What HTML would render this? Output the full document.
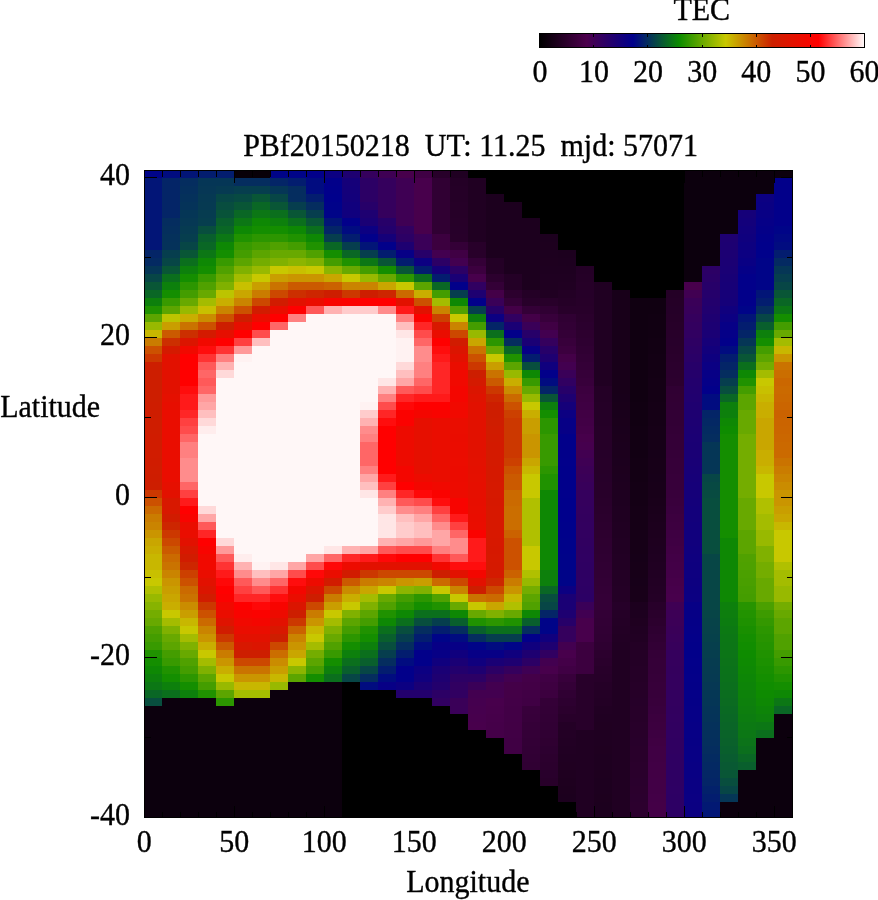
<!DOCTYPE html>
<html><head><meta charset="utf-8"><title>TEC map</title>
<style>html,body{margin:0;padding:0;background:#fff;width:878px;height:900px;overflow:hidden;font-family:"Liberation Serif",serif}</style></head>
<body>
<svg width="878" height="900" viewBox="0 0 878 900" style="position:absolute;left:0;top:0">
<rect x="0" y="0" width="878" height="900" fill="#fff"/>
<g shape-rendering="crispEdges">
<rect x="144" y="170" width="648" height="648" fill="#000"/>
<rect x="144" y="170" width="18" height="8" fill="#000488"/>
<rect x="144" y="178" width="18" height="72" fill="#021577"/>
<rect x="144" y="250" width="18" height="8" fill="#042567"/>
<rect x="144" y="258" width="18" height="8" fill="#042a62"/>
<rect x="144" y="266" width="18" height="8" fill="#053656"/>
<rect x="144" y="274" width="18" height="8" fill="#074646"/>
<rect x="144" y="282" width="18" height="8" fill="#095636"/>
<rect x="144" y="290" width="18" height="8" fill="#0a6725"/>
<rect x="144" y="298" width="18" height="8" fill="#0d800c"/>
<rect x="144" y="306" width="18" height="8" fill="#209200"/>
<rect x="144" y="314" width="18" height="8" fill="#5ca500"/>
<rect x="144" y="322" width="18" height="8" fill="#98b900"/>
<rect x="144" y="330" width="18" height="8" fill="#c8b700"/>
<rect x="144" y="338" width="18" height="8" fill="#ca7c00"/>
<rect x="144" y="346" width="18" height="8" fill="#cc5100"/>
<rect x="144" y="354" width="18" height="8" fill="#cc3800"/>
<rect x="144" y="362" width="18" height="40" fill="#cd1e00"/>
<rect x="144" y="402" width="18" height="16" fill="#ce1d00"/>
<rect x="144" y="418" width="18" height="16" fill="#cf1d00"/>
<rect x="144" y="434" width="18" height="16" fill="#d01c00"/>
<rect x="144" y="450" width="18" height="8" fill="#d11c00"/>
<rect x="144" y="458" width="18" height="8" fill="#d01c00"/>
<rect x="144" y="466" width="18" height="8" fill="#cf1d00"/>
<rect x="144" y="474" width="18" height="8" fill="#ce1d00"/>
<rect x="144" y="482" width="18" height="8" fill="#cd1e00"/>
<rect x="144" y="490" width="18" height="8" fill="#cc3800"/>
<rect x="144" y="498" width="18" height="8" fill="#cc5100"/>
<rect x="144" y="506" width="18" height="8" fill="#cb6a00"/>
<rect x="144" y="514" width="18" height="8" fill="#ca7c00"/>
<rect x="144" y="522" width="18" height="8" fill="#ca8400"/>
<rect x="144" y="530" width="18" height="8" fill="#ca9500"/>
<rect x="144" y="538" width="18" height="8" fill="#c9a600"/>
<rect x="144" y="546" width="18" height="8" fill="#c9ae00"/>
<rect x="144" y="554" width="18" height="16" fill="#c8b700"/>
<rect x="144" y="570" width="18" height="8" fill="#c8c000"/>
<rect x="144" y="578" width="18" height="8" fill="#c8c800"/>
<rect x="144" y="586" width="18" height="8" fill="#b0c000"/>
<rect x="144" y="594" width="18" height="8" fill="#98b900"/>
<rect x="144" y="602" width="18" height="8" fill="#87b300"/>
<rect x="144" y="610" width="18" height="8" fill="#74ad00"/>
<rect x="144" y="618" width="18" height="8" fill="#68a900"/>
<rect x="144" y="626" width="18" height="8" fill="#50a100"/>
<rect x="144" y="634" width="18" height="8" fill="#449d00"/>
<rect x="144" y="642" width="18" height="8" fill="#389a00"/>
<rect x="144" y="650" width="18" height="8" fill="#209200"/>
<rect x="144" y="658" width="18" height="8" fill="#148e00"/>
<rect x="144" y="666" width="18" height="8" fill="#0e8804"/>
<rect x="144" y="674" width="18" height="8" fill="#0d800c"/>
<rect x="144" y="682" width="18" height="8" fill="#0c7715"/>
<rect x="144" y="690" width="18" height="8" fill="#0a6725"/>
<rect x="144" y="698" width="18" height="8" fill="#084e3e"/>
<rect x="144" y="706" width="18" height="112" fill="#0c000d"/>
<rect x="162" y="170" width="18" height="8" fill="#010c80"/>
<rect x="162" y="178" width="18" height="40" fill="#042567"/>
<rect x="162" y="218" width="18" height="8" fill="#052d5f"/>
<rect x="162" y="226" width="18" height="8" fill="#052f5d"/>
<rect x="162" y="234" width="18" height="8" fill="#05315b"/>
<rect x="162" y="242" width="18" height="8" fill="#05325a"/>
<rect x="162" y="250" width="18" height="8" fill="#063e4e"/>
<rect x="162" y="258" width="18" height="8" fill="#074646"/>
<rect x="162" y="266" width="18" height="8" fill="#095636"/>
<rect x="162" y="274" width="18" height="8" fill="#0b6f1d"/>
<rect x="162" y="282" width="18" height="8" fill="#0d800c"/>
<rect x="162" y="290" width="18" height="8" fill="#148e00"/>
<rect x="162" y="298" width="18" height="8" fill="#389a00"/>
<rect x="162" y="306" width="18" height="8" fill="#5ca500"/>
<rect x="162" y="314" width="18" height="8" fill="#bcc400"/>
<rect x="162" y="322" width="18" height="8" fill="#c99e00"/>
<rect x="162" y="330" width="18" height="8" fill="#cb5a00"/>
<rect x="162" y="338" width="18" height="8" fill="#cc2f00"/>
<rect x="162" y="346" width="18" height="8" fill="#d41a00"/>
<rect x="162" y="354" width="18" height="40" fill="#e21100"/>
<rect x="162" y="394" width="18" height="8" fill="#e51000"/>
<rect x="162" y="402" width="18" height="8" fill="#e70e00"/>
<rect x="162" y="410" width="18" height="72" fill="#ea0d00"/>
<rect x="162" y="482" width="18" height="8" fill="#e60f00"/>
<rect x="162" y="490" width="18" height="8" fill="#e21100"/>
<rect x="162" y="498" width="18" height="16" fill="#d81800"/>
<rect x="162" y="514" width="18" height="8" fill="#d11c00"/>
<rect x="162" y="522" width="18" height="8" fill="#cd2600"/>
<rect x="162" y="530" width="18" height="8" fill="#cc3800"/>
<rect x="162" y="538" width="18" height="8" fill="#cc4800"/>
<rect x="162" y="546" width="18" height="8" fill="#cb5a00"/>
<rect x="162" y="554" width="18" height="8" fill="#cb6a00"/>
<rect x="162" y="562" width="18" height="8" fill="#ca7300"/>
<rect x="162" y="570" width="18" height="8" fill="#ca8400"/>
<rect x="162" y="578" width="18" height="8" fill="#ca9500"/>
<rect x="162" y="586" width="18" height="8" fill="#c99e00"/>
<rect x="162" y="594" width="18" height="8" fill="#c9a600"/>
<rect x="162" y="602" width="18" height="8" fill="#c9ae00"/>
<rect x="162" y="610" width="18" height="8" fill="#c8c800"/>
<rect x="162" y="618" width="18" height="8" fill="#a4bc00"/>
<rect x="162" y="626" width="18" height="8" fill="#80b100"/>
<rect x="162" y="634" width="18" height="8" fill="#68a900"/>
<rect x="162" y="642" width="18" height="8" fill="#5ca500"/>
<rect x="162" y="650" width="18" height="8" fill="#449d00"/>
<rect x="162" y="658" width="18" height="8" fill="#389a00"/>
<rect x="162" y="666" width="18" height="8" fill="#209200"/>
<rect x="162" y="674" width="18" height="8" fill="#148e00"/>
<rect x="162" y="682" width="18" height="8" fill="#0d800c"/>
<rect x="162" y="690" width="18" height="8" fill="#0b6f1d"/>
<rect x="162" y="698" width="18" height="120" fill="#0c000d"/>
<rect x="180" y="170" width="18" height="8" fill="#021577"/>
<rect x="180" y="178" width="18" height="8" fill="#052d5f"/>
<rect x="180" y="186" width="18" height="8" fill="#052f5d"/>
<rect x="180" y="194" width="18" height="8" fill="#05315b"/>
<rect x="180" y="202" width="18" height="8" fill="#053359"/>
<rect x="180" y="210" width="18" height="8" fill="#053656"/>
<rect x="180" y="218" width="18" height="8" fill="#063854"/>
<rect x="180" y="226" width="18" height="8" fill="#063b51"/>
<rect x="180" y="234" width="18" height="8" fill="#063e4e"/>
<rect x="180" y="242" width="18" height="8" fill="#074646"/>
<rect x="180" y="250" width="18" height="8" fill="#095636"/>
<rect x="180" y="258" width="18" height="8" fill="#0b6f1d"/>
<rect x="180" y="266" width="18" height="8" fill="#0d800c"/>
<rect x="180" y="274" width="18" height="8" fill="#148e00"/>
<rect x="180" y="282" width="18" height="8" fill="#2c9600"/>
<rect x="180" y="290" width="18" height="8" fill="#449d00"/>
<rect x="180" y="298" width="18" height="8" fill="#68a900"/>
<rect x="180" y="306" width="18" height="8" fill="#98b900"/>
<rect x="180" y="314" width="18" height="8" fill="#c9ae00"/>
<rect x="180" y="322" width="18" height="8" fill="#ca7300"/>
<rect x="180" y="330" width="18" height="8" fill="#cc2f00"/>
<rect x="180" y="338" width="18" height="8" fill="#db1500"/>
<rect x="180" y="346" width="18" height="8" fill="#f10900"/>
<rect x="180" y="354" width="18" height="32" fill="#ff0000"/>
<rect x="180" y="386" width="18" height="8" fill="#ff0d0d"/>
<rect x="180" y="394" width="18" height="16" fill="#ff1a1a"/>
<rect x="180" y="410" width="18" height="8" fill="#ff2626"/>
<rect x="180" y="418" width="18" height="8" fill="#ff4040"/>
<rect x="180" y="426" width="18" height="8" fill="#ff4c4c"/>
<rect x="180" y="434" width="18" height="8" fill="#ff6666"/>
<rect x="180" y="442" width="18" height="16" fill="#ff8080"/>
<rect x="180" y="458" width="18" height="24" fill="#ff8c8c"/>
<rect x="180" y="482" width="18" height="8" fill="#ff6666"/>
<rect x="180" y="490" width="18" height="8" fill="#ff4040"/>
<rect x="180" y="498" width="18" height="8" fill="#ff1a1a"/>
<rect x="180" y="506" width="18" height="8" fill="#ff0000"/>
<rect x="180" y="514" width="18" height="8" fill="#f80400"/>
<rect x="180" y="522" width="18" height="16" fill="#ea0d00"/>
<rect x="180" y="538" width="18" height="8" fill="#e21100"/>
<rect x="180" y="546" width="18" height="8" fill="#d81800"/>
<rect x="180" y="554" width="18" height="8" fill="#d11c00"/>
<rect x="180" y="562" width="18" height="8" fill="#cd2600"/>
<rect x="180" y="570" width="18" height="8" fill="#cc4000"/>
<rect x="180" y="578" width="18" height="8" fill="#cc5100"/>
<rect x="180" y="586" width="18" height="8" fill="#cb6a00"/>
<rect x="180" y="594" width="18" height="8" fill="#ca7300"/>
<rect x="180" y="602" width="18" height="8" fill="#ca8c00"/>
<rect x="180" y="610" width="18" height="8" fill="#c99e00"/>
<rect x="180" y="618" width="18" height="8" fill="#c8b700"/>
<rect x="180" y="626" width="18" height="8" fill="#c8c800"/>
<rect x="180" y="634" width="18" height="8" fill="#a4bc00"/>
<rect x="180" y="642" width="18" height="8" fill="#80b100"/>
<rect x="180" y="650" width="18" height="8" fill="#68a900"/>
<rect x="180" y="658" width="18" height="8" fill="#50a100"/>
<rect x="180" y="666" width="18" height="8" fill="#449d00"/>
<rect x="180" y="674" width="18" height="8" fill="#2c9600"/>
<rect x="180" y="682" width="18" height="8" fill="#148e00"/>
<rect x="180" y="690" width="18" height="8" fill="#0d800c"/>
<rect x="180" y="698" width="18" height="120" fill="#0c000d"/>
<rect x="198" y="170" width="18" height="8" fill="#031d6f"/>
<rect x="198" y="178" width="18" height="8" fill="#053656"/>
<rect x="198" y="186" width="18" height="8" fill="#063755"/>
<rect x="198" y="194" width="18" height="8" fill="#063953"/>
<rect x="198" y="202" width="18" height="8" fill="#063a52"/>
<rect x="198" y="210" width="18" height="8" fill="#063c50"/>
<rect x="198" y="218" width="18" height="8" fill="#063e4e"/>
<rect x="198" y="226" width="18" height="8" fill="#084e3e"/>
<rect x="198" y="234" width="18" height="8" fill="#095f2d"/>
<rect x="198" y="242" width="18" height="8" fill="#0a6725"/>
<rect x="198" y="250" width="18" height="8" fill="#0c7715"/>
<rect x="198" y="258" width="18" height="8" fill="#0e8804"/>
<rect x="198" y="266" width="18" height="8" fill="#148e00"/>
<rect x="198" y="274" width="18" height="8" fill="#389a00"/>
<rect x="198" y="282" width="18" height="8" fill="#50a100"/>
<rect x="198" y="290" width="18" height="8" fill="#68a900"/>
<rect x="198" y="298" width="18" height="8" fill="#a4bc00"/>
<rect x="198" y="306" width="18" height="8" fill="#c8c000"/>
<rect x="198" y="314" width="18" height="8" fill="#ca8c00"/>
<rect x="198" y="322" width="18" height="8" fill="#cc5100"/>
<rect x="198" y="330" width="18" height="8" fill="#d41a00"/>
<rect x="198" y="338" width="18" height="8" fill="#f10900"/>
<rect x="198" y="346" width="18" height="8" fill="#ff0d0d"/>
<rect x="198" y="354" width="18" height="8" fill="#ff3333"/>
<rect x="198" y="362" width="18" height="8" fill="#ff5959"/>
<rect x="198" y="370" width="18" height="8" fill="#ff6666"/>
<rect x="198" y="378" width="18" height="8" fill="#ff5959"/>
<rect x="198" y="386" width="18" height="8" fill="#ff6666"/>
<rect x="198" y="394" width="18" height="8" fill="#ff9999"/>
<rect x="198" y="402" width="18" height="8" fill="#ffa6a6"/>
<rect x="198" y="410" width="18" height="8" fill="#ffbfbf"/>
<rect x="198" y="418" width="18" height="8" fill="#ffd9d9"/>
<rect x="198" y="426" width="18" height="8" fill="#ffeded"/>
<rect x="198" y="434" width="18" height="72" fill="#fff7f7"/>
<rect x="198" y="506" width="18" height="8" fill="#ffd9d9"/>
<rect x="198" y="514" width="18" height="8" fill="#ffa6a6"/>
<rect x="198" y="522" width="18" height="8" fill="#ff5959"/>
<rect x="198" y="530" width="18" height="8" fill="#ff2626"/>
<rect x="198" y="538" width="18" height="8" fill="#ff0000"/>
<rect x="198" y="546" width="18" height="8" fill="#f80400"/>
<rect x="198" y="554" width="18" height="16" fill="#f10900"/>
<rect x="198" y="570" width="18" height="8" fill="#ea0d00"/>
<rect x="198" y="578" width="18" height="8" fill="#e21100"/>
<rect x="198" y="586" width="18" height="8" fill="#db1500"/>
<rect x="198" y="594" width="18" height="8" fill="#d11c00"/>
<rect x="198" y="602" width="18" height="8" fill="#cc3800"/>
<rect x="198" y="610" width="18" height="8" fill="#cc5100"/>
<rect x="198" y="618" width="18" height="8" fill="#cb6a00"/>
<rect x="198" y="626" width="18" height="8" fill="#ca8400"/>
<rect x="198" y="634" width="18" height="8" fill="#ca9500"/>
<rect x="198" y="642" width="18" height="8" fill="#c9ae00"/>
<rect x="198" y="650" width="18" height="8" fill="#c8c800"/>
<rect x="198" y="658" width="18" height="8" fill="#a4bc00"/>
<rect x="198" y="666" width="18" height="8" fill="#80b100"/>
<rect x="198" y="674" width="18" height="8" fill="#5ca500"/>
<rect x="198" y="682" width="18" height="8" fill="#449d00"/>
<rect x="198" y="690" width="18" height="8" fill="#209200"/>
<rect x="198" y="698" width="18" height="120" fill="#0c000d"/>
<rect x="216" y="170" width="18" height="8" fill="#031d6f"/>
<rect x="216" y="178" width="18" height="8" fill="#053656"/>
<rect x="216" y="186" width="18" height="8" fill="#063a52"/>
<rect x="216" y="194" width="18" height="8" fill="#074646"/>
<rect x="216" y="202" width="18" height="8" fill="#084d3f"/>
<rect x="216" y="210" width="18" height="8" fill="#085339"/>
<rect x="216" y="218" width="18" height="8" fill="#095f2d"/>
<rect x="216" y="226" width="18" height="8" fill="#0a6725"/>
<rect x="216" y="234" width="18" height="8" fill="#0c7715"/>
<rect x="216" y="242" width="18" height="8" fill="#0e8804"/>
<rect x="216" y="250" width="18" height="8" fill="#148e00"/>
<rect x="216" y="258" width="18" height="8" fill="#389a00"/>
<rect x="216" y="266" width="18" height="8" fill="#50a100"/>
<rect x="216" y="274" width="18" height="8" fill="#68a900"/>
<rect x="216" y="282" width="18" height="8" fill="#80b100"/>
<rect x="216" y="290" width="18" height="8" fill="#bcc400"/>
<rect x="216" y="298" width="18" height="8" fill="#c9ae00"/>
<rect x="216" y="306" width="18" height="8" fill="#ca8400"/>
<rect x="216" y="314" width="18" height="8" fill="#cc5100"/>
<rect x="216" y="322" width="18" height="8" fill="#cd1e00"/>
<rect x="216" y="330" width="18" height="8" fill="#e60f00"/>
<rect x="216" y="338" width="18" height="8" fill="#ff0000"/>
<rect x="216" y="346" width="18" height="8" fill="#ff3333"/>
<rect x="216" y="354" width="18" height="8" fill="#ff8080"/>
<rect x="216" y="362" width="18" height="8" fill="#ffb2b2"/>
<rect x="216" y="370" width="18" height="8" fill="#ffd9d9"/>
<rect x="216" y="378" width="18" height="160" fill="#fff7f7"/>
<rect x="216" y="538" width="18" height="8" fill="#ffd9d9"/>
<rect x="216" y="546" width="18" height="8" fill="#ff9999"/>
<rect x="216" y="554" width="18" height="8" fill="#ff5959"/>
<rect x="216" y="562" width="18" height="8" fill="#ff3333"/>
<rect x="216" y="570" width="18" height="8" fill="#ff1a1a"/>
<rect x="216" y="578" width="18" height="8" fill="#ff0808"/>
<rect x="216" y="586" width="18" height="8" fill="#ff0000"/>
<rect x="216" y="594" width="18" height="8" fill="#fb0200"/>
<rect x="216" y="602" width="18" height="8" fill="#f10900"/>
<rect x="216" y="610" width="18" height="8" fill="#ea0d00"/>
<rect x="216" y="618" width="18" height="8" fill="#df1300"/>
<rect x="216" y="626" width="18" height="8" fill="#d11c00"/>
<rect x="216" y="634" width="18" height="8" fill="#cc3800"/>
<rect x="216" y="642" width="18" height="8" fill="#cb5a00"/>
<rect x="216" y="650" width="18" height="8" fill="#ca7c00"/>
<rect x="216" y="658" width="18" height="8" fill="#ca9500"/>
<rect x="216" y="666" width="18" height="8" fill="#c9ae00"/>
<rect x="216" y="674" width="18" height="8" fill="#c8c800"/>
<rect x="216" y="682" width="18" height="8" fill="#98b900"/>
<rect x="216" y="690" width="18" height="8" fill="#5ca500"/>
<rect x="216" y="698" width="18" height="8" fill="#2c9600"/>
<rect x="216" y="706" width="18" height="112" fill="#0c000d"/>
<rect x="234" y="170" width="18" height="8" fill="#080008"/>
<rect x="234" y="178" width="18" height="8" fill="#052d5f"/>
<rect x="234" y="186" width="18" height="8" fill="#063e4e"/>
<rect x="234" y="194" width="18" height="8" fill="#074a42"/>
<rect x="234" y="202" width="18" height="8" fill="#095636"/>
<rect x="234" y="210" width="18" height="8" fill="#0a6725"/>
<rect x="234" y="218" width="18" height="8" fill="#0c7715"/>
<rect x="234" y="226" width="18" height="8" fill="#0e8804"/>
<rect x="234" y="234" width="18" height="8" fill="#209200"/>
<rect x="234" y="242" width="18" height="8" fill="#389a00"/>
<rect x="234" y="250" width="18" height="8" fill="#449d00"/>
<rect x="234" y="258" width="18" height="8" fill="#5ca500"/>
<rect x="234" y="266" width="18" height="8" fill="#80b100"/>
<rect x="234" y="274" width="18" height="8" fill="#a4bc00"/>
<rect x="234" y="282" width="18" height="8" fill="#c8c000"/>
<rect x="234" y="290" width="18" height="8" fill="#c9a600"/>
<rect x="234" y="298" width="18" height="8" fill="#ca8400"/>
<rect x="234" y="306" width="18" height="8" fill="#cc5100"/>
<rect x="234" y="314" width="18" height="8" fill="#cd1e00"/>
<rect x="234" y="322" width="18" height="8" fill="#e60f00"/>
<rect x="234" y="330" width="18" height="8" fill="#ff0000"/>
<rect x="234" y="338" width="18" height="8" fill="#ff4040"/>
<rect x="234" y="346" width="18" height="8" fill="#ff9999"/>
<rect x="234" y="354" width="18" height="8" fill="#fff2f2"/>
<rect x="234" y="362" width="18" height="192" fill="#fff7f7"/>
<rect x="234" y="554" width="18" height="8" fill="#ffeded"/>
<rect x="234" y="562" width="18" height="8" fill="#ffb2b2"/>
<rect x="234" y="570" width="18" height="8" fill="#ff8c8c"/>
<rect x="234" y="578" width="18" height="8" fill="#ff5959"/>
<rect x="234" y="586" width="18" height="8" fill="#ff4040"/>
<rect x="234" y="594" width="18" height="8" fill="#ff2626"/>
<rect x="234" y="602" width="18" height="8" fill="#ff0000"/>
<rect x="234" y="610" width="18" height="8" fill="#f80400"/>
<rect x="234" y="618" width="18" height="8" fill="#f10900"/>
<rect x="234" y="626" width="18" height="8" fill="#ea0d00"/>
<rect x="234" y="634" width="18" height="8" fill="#e21100"/>
<rect x="234" y="642" width="18" height="8" fill="#d81800"/>
<rect x="234" y="650" width="18" height="8" fill="#cd1e00"/>
<rect x="234" y="658" width="18" height="8" fill="#cc4800"/>
<rect x="234" y="666" width="18" height="8" fill="#ca7300"/>
<rect x="234" y="674" width="18" height="8" fill="#ca9500"/>
<rect x="234" y="682" width="18" height="8" fill="#c8b700"/>
<rect x="234" y="690" width="18" height="8" fill="#a4bc00"/>
<rect x="234" y="698" width="18" height="120" fill="#0c000d"/>
<rect x="252" y="170" width="18" height="8" fill="#080008"/>
<rect x="252" y="178" width="18" height="8" fill="#052d5f"/>
<rect x="252" y="186" width="18" height="8" fill="#063e4e"/>
<rect x="252" y="194" width="18" height="8" fill="#095636"/>
<rect x="252" y="202" width="18" height="8" fill="#0a6725"/>
<rect x="252" y="210" width="18" height="8" fill="#0c7715"/>
<rect x="252" y="218" width="18" height="8" fill="#0e8804"/>
<rect x="252" y="226" width="18" height="8" fill="#148e00"/>
<rect x="252" y="234" width="18" height="8" fill="#2c9600"/>
<rect x="252" y="242" width="18" height="8" fill="#449d00"/>
<rect x="252" y="250" width="18" height="8" fill="#5ca500"/>
<rect x="252" y="258" width="18" height="8" fill="#74ad00"/>
<rect x="252" y="266" width="18" height="8" fill="#98b900"/>
<rect x="252" y="274" width="18" height="8" fill="#c8c800"/>
<rect x="252" y="282" width="18" height="8" fill="#c99e00"/>
<rect x="252" y="290" width="18" height="8" fill="#ca7c00"/>
<rect x="252" y="298" width="18" height="8" fill="#cc4800"/>
<rect x="252" y="306" width="18" height="8" fill="#d11c00"/>
<rect x="252" y="314" width="18" height="8" fill="#ea0d00"/>
<rect x="252" y="322" width="18" height="8" fill="#ff0000"/>
<rect x="252" y="330" width="18" height="8" fill="#ff4c4c"/>
<rect x="252" y="338" width="18" height="8" fill="#ffbfbf"/>
<rect x="252" y="346" width="18" height="216" fill="#fff7f7"/>
<rect x="252" y="562" width="18" height="8" fill="#fff2f2"/>
<rect x="252" y="570" width="18" height="8" fill="#ffbfbf"/>
<rect x="252" y="578" width="18" height="8" fill="#ff8c8c"/>
<rect x="252" y="586" width="18" height="8" fill="#ff5959"/>
<rect x="252" y="594" width="18" height="8" fill="#ff2626"/>
<rect x="252" y="602" width="18" height="8" fill="#ff0808"/>
<rect x="252" y="610" width="18" height="8" fill="#fb0200"/>
<rect x="252" y="618" width="18" height="8" fill="#f40600"/>
<rect x="252" y="626" width="18" height="8" fill="#ea0d00"/>
<rect x="252" y="634" width="18" height="8" fill="#e21100"/>
<rect x="252" y="642" width="18" height="8" fill="#db1500"/>
<rect x="252" y="650" width="18" height="8" fill="#cd1e00"/>
<rect x="252" y="658" width="18" height="8" fill="#cc4800"/>
<rect x="252" y="666" width="18" height="8" fill="#ca7300"/>
<rect x="252" y="674" width="18" height="8" fill="#ca9500"/>
<rect x="252" y="682" width="18" height="8" fill="#c8b700"/>
<rect x="252" y="690" width="18" height="8" fill="#a4bc00"/>
<rect x="252" y="698" width="18" height="120" fill="#0c000d"/>
<rect x="270" y="170" width="18" height="8" fill="#000488"/>
<rect x="270" y="178" width="18" height="8" fill="#042567"/>
<rect x="270" y="186" width="18" height="8" fill="#053656"/>
<rect x="270" y="194" width="18" height="8" fill="#074646"/>
<rect x="270" y="202" width="18" height="8" fill="#095636"/>
<rect x="270" y="210" width="18" height="8" fill="#0b6f1d"/>
<rect x="270" y="218" width="18" height="8" fill="#0d800c"/>
<rect x="270" y="226" width="18" height="8" fill="#148e00"/>
<rect x="270" y="234" width="18" height="8" fill="#2c9600"/>
<rect x="270" y="242" width="18" height="8" fill="#50a100"/>
<rect x="270" y="250" width="18" height="8" fill="#68a900"/>
<rect x="270" y="258" width="18" height="8" fill="#80b100"/>
<rect x="270" y="266" width="18" height="8" fill="#c8c800"/>
<rect x="270" y="274" width="18" height="8" fill="#c99e00"/>
<rect x="270" y="282" width="18" height="8" fill="#ca7300"/>
<rect x="270" y="290" width="18" height="8" fill="#cc4800"/>
<rect x="270" y="298" width="18" height="8" fill="#d11c00"/>
<rect x="270" y="306" width="18" height="8" fill="#ea0d00"/>
<rect x="270" y="314" width="18" height="8" fill="#ff0000"/>
<rect x="270" y="322" width="18" height="8" fill="#ff6666"/>
<rect x="270" y="330" width="18" height="232" fill="#fff7f7"/>
<rect x="270" y="562" width="18" height="8" fill="#ffe6e6"/>
<rect x="270" y="570" width="18" height="8" fill="#ffa6a6"/>
<rect x="270" y="578" width="18" height="8" fill="#ff6666"/>
<rect x="270" y="586" width="18" height="8" fill="#ff3333"/>
<rect x="270" y="594" width="18" height="8" fill="#ff0d0d"/>
<rect x="270" y="602" width="18" height="8" fill="#f80400"/>
<rect x="270" y="610" width="18" height="8" fill="#ed0b00"/>
<rect x="270" y="618" width="18" height="8" fill="#e21100"/>
<rect x="270" y="626" width="18" height="8" fill="#d81800"/>
<rect x="270" y="634" width="18" height="8" fill="#cd1e00"/>
<rect x="270" y="642" width="18" height="8" fill="#cc4800"/>
<rect x="270" y="650" width="18" height="8" fill="#cb6e00"/>
<rect x="270" y="658" width="18" height="8" fill="#ca8c00"/>
<rect x="270" y="666" width="18" height="8" fill="#c99e00"/>
<rect x="270" y="674" width="18" height="8" fill="#c8b700"/>
<rect x="270" y="682" width="18" height="8" fill="#98b900"/>
<rect x="270" y="690" width="18" height="128" fill="#0c000d"/>
<rect x="288" y="170" width="18" height="8" fill="#000488"/>
<rect x="288" y="178" width="18" height="8" fill="#031d6f"/>
<rect x="288" y="186" width="18" height="16" fill="#052d5f"/>
<rect x="288" y="202" width="18" height="8" fill="#063e4e"/>
<rect x="288" y="210" width="18" height="8" fill="#095636"/>
<rect x="288" y="218" width="18" height="8" fill="#0b6f1d"/>
<rect x="288" y="226" width="18" height="8" fill="#0e8804"/>
<rect x="288" y="234" width="18" height="8" fill="#209200"/>
<rect x="288" y="242" width="18" height="8" fill="#449d00"/>
<rect x="288" y="250" width="18" height="8" fill="#68a900"/>
<rect x="288" y="258" width="18" height="8" fill="#8cb500"/>
<rect x="288" y="266" width="18" height="8" fill="#c8c000"/>
<rect x="288" y="274" width="18" height="8" fill="#ca9500"/>
<rect x="288" y="282" width="18" height="8" fill="#cb5a00"/>
<rect x="288" y="290" width="18" height="8" fill="#cc2f00"/>
<rect x="288" y="298" width="18" height="8" fill="#e21100"/>
<rect x="288" y="306" width="18" height="8" fill="#ff0000"/>
<rect x="288" y="314" width="18" height="8" fill="#ff8080"/>
<rect x="288" y="322" width="18" height="240" fill="#fff7f7"/>
<rect x="288" y="562" width="18" height="8" fill="#ffa6a6"/>
<rect x="288" y="570" width="18" height="8" fill="#ff4c4c"/>
<rect x="288" y="578" width="18" height="8" fill="#ff0d0d"/>
<rect x="288" y="586" width="18" height="8" fill="#f40600"/>
<rect x="288" y="594" width="18" height="8" fill="#ea0d00"/>
<rect x="288" y="602" width="18" height="8" fill="#db1500"/>
<rect x="288" y="610" width="18" height="8" fill="#cd1e00"/>
<rect x="288" y="618" width="18" height="8" fill="#cc3800"/>
<rect x="288" y="626" width="18" height="8" fill="#cb6200"/>
<rect x="288" y="634" width="18" height="8" fill="#ca8400"/>
<rect x="288" y="642" width="18" height="8" fill="#ca9500"/>
<rect x="288" y="650" width="18" height="8" fill="#c9a600"/>
<rect x="288" y="658" width="18" height="8" fill="#c8c800"/>
<rect x="288" y="666" width="18" height="8" fill="#8cb500"/>
<rect x="288" y="674" width="18" height="8" fill="#5ca500"/>
<rect x="288" y="682" width="18" height="136" fill="#0c000d"/>
<rect x="306" y="170" width="18" height="8" fill="#02008a"/>
<rect x="306" y="178" width="18" height="16" fill="#010c80"/>
<rect x="306" y="194" width="18" height="8" fill="#031d6f"/>
<rect x="306" y="202" width="18" height="8" fill="#052d5f"/>
<rect x="306" y="210" width="18" height="8" fill="#063e4e"/>
<rect x="306" y="218" width="18" height="8" fill="#095636"/>
<rect x="306" y="226" width="18" height="8" fill="#0b6f1d"/>
<rect x="306" y="234" width="18" height="8" fill="#0e8804"/>
<rect x="306" y="242" width="18" height="8" fill="#209200"/>
<rect x="306" y="250" width="18" height="8" fill="#50a100"/>
<rect x="306" y="258" width="18" height="8" fill="#80b100"/>
<rect x="306" y="266" width="18" height="8" fill="#c8c800"/>
<rect x="306" y="274" width="18" height="8" fill="#ca9500"/>
<rect x="306" y="282" width="18" height="8" fill="#cb5a00"/>
<rect x="306" y="290" width="18" height="8" fill="#cd2600"/>
<rect x="306" y="298" width="18" height="8" fill="#ea0d00"/>
<rect x="306" y="306" width="18" height="8" fill="#ff5959"/>
<rect x="306" y="314" width="18" height="240" fill="#fff7f7"/>
<rect x="306" y="554" width="18" height="8" fill="#ffa6a6"/>
<rect x="306" y="562" width="18" height="8" fill="#ff4c4c"/>
<rect x="306" y="570" width="18" height="8" fill="#ff0808"/>
<rect x="306" y="578" width="18" height="8" fill="#ed0b00"/>
<rect x="306" y="586" width="18" height="8" fill="#db1500"/>
<rect x="306" y="594" width="18" height="8" fill="#cd1e00"/>
<rect x="306" y="602" width="18" height="8" fill="#cc4800"/>
<rect x="306" y="610" width="18" height="8" fill="#ca7c00"/>
<rect x="306" y="618" width="18" height="8" fill="#ca9500"/>
<rect x="306" y="626" width="18" height="8" fill="#c8b700"/>
<rect x="306" y="634" width="18" height="8" fill="#c8c800"/>
<rect x="306" y="642" width="18" height="8" fill="#a4bc00"/>
<rect x="306" y="650" width="18" height="8" fill="#74ad00"/>
<rect x="306" y="658" width="18" height="8" fill="#5ca500"/>
<rect x="306" y="666" width="18" height="8" fill="#449d00"/>
<rect x="306" y="674" width="18" height="8" fill="#148e00"/>
<rect x="306" y="682" width="18" height="136" fill="#0c000d"/>
<rect x="324" y="170" width="18" height="8" fill="#0c0082"/>
<rect x="324" y="178" width="18" height="8" fill="#02008a"/>
<rect x="324" y="186" width="18" height="8" fill="#01008b"/>
<rect x="324" y="194" width="18" height="8" fill="#00008c"/>
<rect x="324" y="202" width="18" height="8" fill="#00028a"/>
<rect x="324" y="210" width="18" height="8" fill="#000488"/>
<rect x="324" y="218" width="18" height="8" fill="#021577"/>
<rect x="324" y="226" width="18" height="8" fill="#042567"/>
<rect x="324" y="234" width="18" height="8" fill="#063e4e"/>
<rect x="324" y="242" width="18" height="8" fill="#0a6725"/>
<rect x="324" y="250" width="18" height="8" fill="#148e00"/>
<rect x="324" y="258" width="18" height="8" fill="#449d00"/>
<rect x="324" y="266" width="18" height="8" fill="#8cb500"/>
<rect x="324" y="274" width="18" height="8" fill="#c9a600"/>
<rect x="324" y="282" width="18" height="8" fill="#cb6200"/>
<rect x="324" y="290" width="18" height="8" fill="#cd1e00"/>
<rect x="324" y="298" width="18" height="8" fill="#f80400"/>
<rect x="324" y="306" width="18" height="8" fill="#ffb2b2"/>
<rect x="324" y="314" width="18" height="232" fill="#fff7f7"/>
<rect x="324" y="546" width="18" height="8" fill="#ffe6e6"/>
<rect x="324" y="554" width="18" height="8" fill="#ff6666"/>
<rect x="324" y="562" width="18" height="8" fill="#ff0808"/>
<rect x="324" y="570" width="18" height="8" fill="#ea0d00"/>
<rect x="324" y="578" width="18" height="8" fill="#d11c00"/>
<rect x="324" y="586" width="18" height="8" fill="#cc4800"/>
<rect x="324" y="594" width="18" height="8" fill="#ca7c00"/>
<rect x="324" y="602" width="18" height="8" fill="#c99e00"/>
<rect x="324" y="610" width="18" height="8" fill="#c8c800"/>
<rect x="324" y="618" width="18" height="8" fill="#a4bc00"/>
<rect x="324" y="626" width="18" height="8" fill="#80b100"/>
<rect x="324" y="634" width="18" height="8" fill="#68a900"/>
<rect x="324" y="642" width="18" height="8" fill="#50a100"/>
<rect x="324" y="650" width="18" height="8" fill="#389a00"/>
<rect x="324" y="658" width="18" height="8" fill="#148e00"/>
<rect x="324" y="666" width="18" height="8" fill="#0d800c"/>
<rect x="324" y="674" width="18" height="8" fill="#0b6f1d"/>
<rect x="324" y="682" width="18" height="136" fill="#0c000d"/>
<rect x="342" y="170" width="18" height="8" fill="#1e0071"/>
<rect x="342" y="178" width="18" height="8" fill="#150079"/>
<rect x="342" y="186" width="18" height="8" fill="#14007a"/>
<rect x="342" y="194" width="18" height="8" fill="#13007b"/>
<rect x="342" y="202" width="18" height="8" fill="#11007d"/>
<rect x="342" y="210" width="18" height="8" fill="#10007e"/>
<rect x="342" y="218" width="18" height="8" fill="#02008a"/>
<rect x="342" y="226" width="18" height="8" fill="#010c80"/>
<rect x="342" y="234" width="18" height="8" fill="#031d6f"/>
<rect x="342" y="242" width="18" height="8" fill="#063e4e"/>
<rect x="342" y="250" width="18" height="8" fill="#0a6725"/>
<rect x="342" y="258" width="18" height="8" fill="#209200"/>
<rect x="342" y="266" width="18" height="8" fill="#68a900"/>
<rect x="342" y="274" width="18" height="8" fill="#c8c800"/>
<rect x="342" y="282" width="18" height="8" fill="#ca8400"/>
<rect x="342" y="290" width="18" height="8" fill="#cc3800"/>
<rect x="342" y="298" width="18" height="8" fill="#fb0200"/>
<rect x="342" y="306" width="18" height="8" fill="#ffcccc"/>
<rect x="342" y="314" width="18" height="232" fill="#fff7f7"/>
<rect x="342" y="546" width="18" height="8" fill="#ffb2b2"/>
<rect x="342" y="554" width="18" height="8" fill="#ff2626"/>
<rect x="342" y="562" width="18" height="8" fill="#ed0b00"/>
<rect x="342" y="570" width="18" height="8" fill="#d11c00"/>
<rect x="342" y="578" width="18" height="8" fill="#cb5a00"/>
<rect x="342" y="586" width="18" height="8" fill="#ca8c00"/>
<rect x="342" y="594" width="18" height="8" fill="#c9ae00"/>
<rect x="342" y="602" width="18" height="8" fill="#c8c800"/>
<rect x="342" y="610" width="18" height="8" fill="#80b100"/>
<rect x="342" y="618" width="18" height="8" fill="#5ca500"/>
<rect x="342" y="626" width="18" height="8" fill="#449d00"/>
<rect x="342" y="634" width="18" height="8" fill="#2c9600"/>
<rect x="342" y="642" width="18" height="8" fill="#148e00"/>
<rect x="342" y="650" width="18" height="8" fill="#0d800c"/>
<rect x="342" y="658" width="18" height="8" fill="#0b6f1d"/>
<rect x="342" y="666" width="18" height="8" fill="#095f2d"/>
<rect x="342" y="674" width="18" height="8" fill="#074646"/>
<rect x="360" y="170" width="18" height="8" fill="#35005d"/>
<rect x="360" y="178" width="18" height="24" fill="#2c0065"/>
<rect x="360" y="202" width="18" height="8" fill="#270069"/>
<rect x="360" y="210" width="18" height="8" fill="#1e0071"/>
<rect x="360" y="218" width="18" height="8" fill="#1a0075"/>
<rect x="360" y="226" width="18" height="8" fill="#0c0082"/>
<rect x="360" y="234" width="18" height="8" fill="#02008a"/>
<rect x="360" y="242" width="18" height="8" fill="#021577"/>
<rect x="360" y="250" width="18" height="8" fill="#063e4e"/>
<rect x="360" y="258" width="18" height="8" fill="#0c7715"/>
<rect x="360" y="266" width="18" height="8" fill="#449d00"/>
<rect x="360" y="274" width="18" height="8" fill="#98b900"/>
<rect x="360" y="282" width="18" height="8" fill="#ca8400"/>
<rect x="360" y="290" width="18" height="8" fill="#cd1e00"/>
<rect x="360" y="298" width="18" height="8" fill="#ff0000"/>
<rect x="360" y="306" width="18" height="8" fill="#ffcccc"/>
<rect x="360" y="314" width="18" height="88" fill="#fff7f7"/>
<rect x="360" y="402" width="18" height="8" fill="#fff2f2"/>
<rect x="360" y="410" width="18" height="8" fill="#ffcccc"/>
<rect x="360" y="418" width="18" height="8" fill="#ffb2b2"/>
<rect x="360" y="426" width="18" height="8" fill="#ff8c8c"/>
<rect x="360" y="434" width="18" height="8" fill="#ff8080"/>
<rect x="360" y="442" width="18" height="24" fill="#ff6666"/>
<rect x="360" y="466" width="18" height="8" fill="#ff8080"/>
<rect x="360" y="474" width="18" height="8" fill="#ffa6a6"/>
<rect x="360" y="482" width="18" height="8" fill="#ffbfbf"/>
<rect x="360" y="490" width="18" height="8" fill="#ffe6e6"/>
<rect x="360" y="498" width="18" height="48" fill="#fff7f7"/>
<rect x="360" y="546" width="18" height="8" fill="#ffa6a6"/>
<rect x="360" y="554" width="18" height="8" fill="#ff1a1a"/>
<rect x="360" y="562" width="18" height="8" fill="#e21100"/>
<rect x="360" y="570" width="18" height="8" fill="#cc3800"/>
<rect x="360" y="578" width="18" height="8" fill="#ca7c00"/>
<rect x="360" y="586" width="18" height="8" fill="#c9a600"/>
<rect x="360" y="594" width="18" height="8" fill="#a4bc00"/>
<rect x="360" y="602" width="18" height="8" fill="#80b100"/>
<rect x="360" y="610" width="18" height="8" fill="#5ca500"/>
<rect x="360" y="618" width="18" height="8" fill="#449d00"/>
<rect x="360" y="626" width="18" height="8" fill="#209200"/>
<rect x="360" y="634" width="18" height="8" fill="#148e00"/>
<rect x="360" y="642" width="18" height="8" fill="#0d800c"/>
<rect x="360" y="650" width="18" height="8" fill="#0b6f1d"/>
<rect x="360" y="658" width="18" height="8" fill="#095f2d"/>
<rect x="360" y="666" width="18" height="8" fill="#074646"/>
<rect x="360" y="674" width="18" height="8" fill="#052d5f"/>
<rect x="360" y="682" width="18" height="8" fill="#010c80"/>
<rect x="378" y="170" width="18" height="8" fill="#3f0054"/>
<rect x="378" y="178" width="18" height="40" fill="#35005d"/>
<rect x="378" y="218" width="18" height="8" fill="#270069"/>
<rect x="378" y="226" width="18" height="8" fill="#23006d"/>
<rect x="378" y="234" width="18" height="8" fill="#150079"/>
<rect x="378" y="242" width="18" height="8" fill="#02008a"/>
<rect x="378" y="250" width="18" height="8" fill="#031d6f"/>
<rect x="378" y="258" width="18" height="8" fill="#095636"/>
<rect x="378" y="266" width="18" height="8" fill="#148e00"/>
<rect x="378" y="274" width="18" height="8" fill="#68a900"/>
<rect x="378" y="282" width="18" height="8" fill="#c9a600"/>
<rect x="378" y="290" width="18" height="8" fill="#cd2600"/>
<rect x="378" y="298" width="18" height="8" fill="#ff0000"/>
<rect x="378" y="306" width="18" height="8" fill="#ff8c8c"/>
<rect x="378" y="314" width="18" height="64" fill="#fff7f7"/>
<rect x="378" y="378" width="18" height="8" fill="#ffe6e6"/>
<rect x="378" y="386" width="18" height="8" fill="#ffb2b2"/>
<rect x="378" y="394" width="18" height="8" fill="#ff8080"/>
<rect x="378" y="402" width="18" height="8" fill="#ff4c4c"/>
<rect x="378" y="410" width="18" height="8" fill="#ff2626"/>
<rect x="378" y="418" width="18" height="8" fill="#ff0d0d"/>
<rect x="378" y="426" width="18" height="48" fill="#ff0000"/>
<rect x="378" y="474" width="18" height="8" fill="#ff1a1a"/>
<rect x="378" y="482" width="18" height="8" fill="#ff4040"/>
<rect x="378" y="490" width="18" height="8" fill="#ff8080"/>
<rect x="378" y="498" width="18" height="8" fill="#ffb2b2"/>
<rect x="378" y="506" width="18" height="8" fill="#ffcccc"/>
<rect x="378" y="514" width="18" height="24" fill="#ffe6e6"/>
<rect x="378" y="538" width="18" height="8" fill="#ffb2b2"/>
<rect x="378" y="546" width="18" height="8" fill="#ff5959"/>
<rect x="378" y="554" width="18" height="8" fill="#ff0808"/>
<rect x="378" y="562" width="18" height="8" fill="#e21100"/>
<rect x="378" y="570" width="18" height="8" fill="#cc4800"/>
<rect x="378" y="578" width="18" height="8" fill="#ca8400"/>
<rect x="378" y="586" width="18" height="8" fill="#c8c800"/>
<rect x="378" y="594" width="18" height="8" fill="#68a900"/>
<rect x="378" y="602" width="18" height="8" fill="#50a100"/>
<rect x="378" y="610" width="18" height="8" fill="#209200"/>
<rect x="378" y="618" width="18" height="8" fill="#0e8804"/>
<rect x="378" y="626" width="18" height="8" fill="#0b6f1d"/>
<rect x="378" y="634" width="18" height="8" fill="#095f2d"/>
<rect x="378" y="642" width="18" height="8" fill="#084e3e"/>
<rect x="378" y="650" width="18" height="8" fill="#063e4e"/>
<rect x="378" y="658" width="18" height="8" fill="#052d5f"/>
<rect x="378" y="666" width="18" height="8" fill="#031d6f"/>
<rect x="378" y="674" width="18" height="8" fill="#010c80"/>
<rect x="378" y="682" width="18" height="8" fill="#070086"/>
<rect x="396" y="170" width="18" height="8" fill="#48004c"/>
<rect x="396" y="178" width="18" height="48" fill="#3f0054"/>
<rect x="396" y="226" width="18" height="8" fill="#310061"/>
<rect x="396" y="234" width="18" height="8" fill="#2c0065"/>
<rect x="396" y="242" width="18" height="8" fill="#1e0071"/>
<rect x="396" y="250" width="18" height="8" fill="#070086"/>
<rect x="396" y="258" width="18" height="8" fill="#031d6f"/>
<rect x="396" y="266" width="18" height="8" fill="#095636"/>
<rect x="396" y="274" width="18" height="8" fill="#2c9600"/>
<rect x="396" y="282" width="18" height="8" fill="#c8c800"/>
<rect x="396" y="290" width="18" height="8" fill="#cb6a00"/>
<rect x="396" y="298" width="18" height="8" fill="#e21100"/>
<rect x="396" y="306" width="18" height="8" fill="#ff1a1a"/>
<rect x="396" y="314" width="18" height="8" fill="#ff8080"/>
<rect x="396" y="322" width="18" height="8" fill="#ffbfbf"/>
<rect x="396" y="330" width="18" height="8" fill="#ffe6e6"/>
<rect x="396" y="338" width="18" height="24" fill="#fff2f2"/>
<rect x="396" y="362" width="18" height="8" fill="#ffd9d9"/>
<rect x="396" y="370" width="18" height="8" fill="#ffbfbf"/>
<rect x="396" y="378" width="18" height="8" fill="#ffa6a6"/>
<rect x="396" y="386" width="18" height="8" fill="#ff5959"/>
<rect x="396" y="394" width="18" height="8" fill="#ff2626"/>
<rect x="396" y="402" width="18" height="8" fill="#ff0808"/>
<rect x="396" y="410" width="18" height="16" fill="#fb0200"/>
<rect x="396" y="426" width="18" height="40" fill="#ed0b00"/>
<rect x="396" y="466" width="18" height="16" fill="#f40600"/>
<rect x="396" y="482" width="18" height="8" fill="#ff0000"/>
<rect x="396" y="490" width="18" height="8" fill="#ff2626"/>
<rect x="396" y="498" width="18" height="8" fill="#ff5959"/>
<rect x="396" y="506" width="18" height="8" fill="#ff8c8c"/>
<rect x="396" y="514" width="18" height="8" fill="#ffbfbf"/>
<rect x="396" y="522" width="18" height="16" fill="#ffcccc"/>
<rect x="396" y="538" width="18" height="8" fill="#ffa6a6"/>
<rect x="396" y="546" width="18" height="8" fill="#ff4c4c"/>
<rect x="396" y="554" width="18" height="8" fill="#ff0000"/>
<rect x="396" y="562" width="18" height="8" fill="#e21100"/>
<rect x="396" y="570" width="18" height="8" fill="#cc4800"/>
<rect x="396" y="578" width="18" height="8" fill="#ca9500"/>
<rect x="396" y="586" width="18" height="8" fill="#8cb500"/>
<rect x="396" y="594" width="18" height="8" fill="#449d00"/>
<rect x="396" y="602" width="18" height="8" fill="#2c9600"/>
<rect x="396" y="610" width="18" height="8" fill="#0e8804"/>
<rect x="396" y="618" width="18" height="8" fill="#0b6f1d"/>
<rect x="396" y="626" width="18" height="8" fill="#084e3e"/>
<rect x="396" y="634" width="18" height="8" fill="#063e4e"/>
<rect x="396" y="642" width="18" height="8" fill="#052d5f"/>
<rect x="396" y="650" width="18" height="8" fill="#031d6f"/>
<rect x="396" y="658" width="18" height="8" fill="#010c80"/>
<rect x="396" y="666" width="18" height="16" fill="#02008a"/>
<rect x="396" y="682" width="18" height="8" fill="#0c0082"/>
<rect x="396" y="690" width="18" height="8" fill="#23006d"/>
<rect x="414" y="170" width="18" height="8" fill="#400044"/>
<rect x="414" y="178" width="18" height="56" fill="#48004c"/>
<rect x="414" y="234" width="18" height="16" fill="#3a0058"/>
<rect x="414" y="250" width="18" height="8" fill="#270069"/>
<rect x="414" y="258" width="18" height="8" fill="#0c0082"/>
<rect x="414" y="266" width="18" height="8" fill="#031d6f"/>
<rect x="414" y="274" width="18" height="8" fill="#0b6f1d"/>
<rect x="414" y="282" width="18" height="8" fill="#5ca500"/>
<rect x="414" y="290" width="18" height="8" fill="#c9ae00"/>
<rect x="414" y="298" width="18" height="8" fill="#cc5100"/>
<rect x="414" y="306" width="18" height="8" fill="#e21100"/>
<rect x="414" y="314" width="18" height="8" fill="#fb0200"/>
<rect x="414" y="322" width="18" height="8" fill="#ff2626"/>
<rect x="414" y="330" width="18" height="8" fill="#ff4c4c"/>
<rect x="414" y="338" width="18" height="8" fill="#ff6666"/>
<rect x="414" y="346" width="18" height="16" fill="#ff8c8c"/>
<rect x="414" y="362" width="18" height="16" fill="#ff8080"/>
<rect x="414" y="378" width="18" height="8" fill="#ff6666"/>
<rect x="414" y="386" width="18" height="8" fill="#ff4c4c"/>
<rect x="414" y="394" width="18" height="8" fill="#ff1a1a"/>
<rect x="414" y="402" width="18" height="8" fill="#ff0000"/>
<rect x="414" y="410" width="18" height="8" fill="#f40600"/>
<rect x="414" y="418" width="18" height="56" fill="#e60f00"/>
<rect x="414" y="474" width="18" height="8" fill="#ed0b00"/>
<rect x="414" y="482" width="18" height="8" fill="#f40600"/>
<rect x="414" y="490" width="18" height="8" fill="#ff0808"/>
<rect x="414" y="498" width="18" height="8" fill="#ff4c4c"/>
<rect x="414" y="506" width="18" height="8" fill="#ff8080"/>
<rect x="414" y="514" width="18" height="8" fill="#ffa6a6"/>
<rect x="414" y="522" width="18" height="16" fill="#ffbfbf"/>
<rect x="414" y="538" width="18" height="8" fill="#ff9999"/>
<rect x="414" y="546" width="18" height="8" fill="#ff4c4c"/>
<rect x="414" y="554" width="18" height="8" fill="#ff0000"/>
<rect x="414" y="562" width="18" height="8" fill="#e21100"/>
<rect x="414" y="570" width="18" height="8" fill="#cc4800"/>
<rect x="414" y="578" width="18" height="8" fill="#c99e00"/>
<rect x="414" y="586" width="18" height="8" fill="#80b100"/>
<rect x="414" y="594" width="18" height="8" fill="#2c9600"/>
<rect x="414" y="602" width="18" height="8" fill="#148e00"/>
<rect x="414" y="610" width="18" height="8" fill="#0b6f1d"/>
<rect x="414" y="618" width="18" height="8" fill="#084e3e"/>
<rect x="414" y="626" width="18" height="8" fill="#052d5f"/>
<rect x="414" y="634" width="18" height="8" fill="#031d6f"/>
<rect x="414" y="642" width="18" height="8" fill="#010c80"/>
<rect x="414" y="650" width="18" height="16" fill="#02008a"/>
<rect x="414" y="666" width="18" height="8" fill="#0c0082"/>
<rect x="414" y="674" width="18" height="8" fill="#10007e"/>
<rect x="414" y="682" width="18" height="8" fill="#1a0075"/>
<rect x="414" y="690" width="18" height="8" fill="#23006d"/>
<rect x="432" y="170" width="18" height="8" fill="#28002a"/>
<rect x="432" y="178" width="18" height="56" fill="#300033"/>
<rect x="432" y="234" width="18" height="16" fill="#3c003f"/>
<rect x="432" y="250" width="18" height="8" fill="#430050"/>
<rect x="432" y="258" width="18" height="8" fill="#2c0065"/>
<rect x="432" y="266" width="18" height="8" fill="#150079"/>
<rect x="432" y="274" width="18" height="8" fill="#031d6f"/>
<rect x="432" y="282" width="18" height="8" fill="#0a6725"/>
<rect x="432" y="290" width="18" height="8" fill="#449d00"/>
<rect x="432" y="298" width="18" height="8" fill="#a4bc00"/>
<rect x="432" y="306" width="18" height="8" fill="#ca8400"/>
<rect x="432" y="314" width="18" height="8" fill="#cc4000"/>
<rect x="432" y="322" width="18" height="8" fill="#d81800"/>
<rect x="432" y="330" width="18" height="8" fill="#ea0d00"/>
<rect x="432" y="338" width="18" height="8" fill="#ff0000"/>
<rect x="432" y="346" width="18" height="8" fill="#ff0d0d"/>
<rect x="432" y="354" width="18" height="8" fill="#ff1a1a"/>
<rect x="432" y="362" width="18" height="32" fill="#ff2626"/>
<rect x="432" y="394" width="18" height="8" fill="#ff1a1a"/>
<rect x="432" y="402" width="18" height="8" fill="#ff0000"/>
<rect x="432" y="410" width="18" height="8" fill="#f80400"/>
<rect x="432" y="418" width="18" height="64" fill="#ea0d00"/>
<rect x="432" y="482" width="18" height="8" fill="#f10900"/>
<rect x="432" y="490" width="18" height="8" fill="#fb0200"/>
<rect x="432" y="498" width="18" height="8" fill="#ff0d0d"/>
<rect x="432" y="506" width="18" height="8" fill="#ff4040"/>
<rect x="432" y="514" width="18" height="8" fill="#ff6666"/>
<rect x="432" y="522" width="18" height="8" fill="#ff8c8c"/>
<rect x="432" y="530" width="18" height="16" fill="#ffa6a6"/>
<rect x="432" y="546" width="18" height="8" fill="#ff8080"/>
<rect x="432" y="554" width="18" height="8" fill="#ff3333"/>
<rect x="432" y="562" width="18" height="8" fill="#f10900"/>
<rect x="432" y="570" width="18" height="8" fill="#cd1e00"/>
<rect x="432" y="578" width="18" height="8" fill="#cb6a00"/>
<rect x="432" y="586" width="18" height="8" fill="#c8c800"/>
<rect x="432" y="594" width="18" height="8" fill="#50a100"/>
<rect x="432" y="602" width="18" height="8" fill="#209200"/>
<rect x="432" y="610" width="18" height="8" fill="#0b6f1d"/>
<rect x="432" y="618" width="18" height="8" fill="#063e4e"/>
<rect x="432" y="626" width="18" height="8" fill="#031d6f"/>
<rect x="432" y="634" width="18" height="8" fill="#000488"/>
<rect x="432" y="642" width="18" height="16" fill="#070086"/>
<rect x="432" y="658" width="18" height="8" fill="#10007e"/>
<rect x="432" y="666" width="18" height="8" fill="#1a0075"/>
<rect x="432" y="674" width="18" height="8" fill="#1e0071"/>
<rect x="432" y="682" width="18" height="8" fill="#23006d"/>
<rect x="432" y="690" width="18" height="8" fill="#2c0065"/>
<rect x="432" y="698" width="18" height="8" fill="#310061"/>
<rect x="450" y="170" width="18" height="8" fill="#200022"/>
<rect x="450" y="178" width="18" height="8" fill="#240026"/>
<rect x="450" y="186" width="18" height="16" fill="#250027"/>
<rect x="450" y="202" width="18" height="16" fill="#260028"/>
<rect x="450" y="218" width="18" height="8" fill="#270029"/>
<rect x="450" y="226" width="18" height="8" fill="#27002a"/>
<rect x="450" y="234" width="18" height="8" fill="#28002a"/>
<rect x="450" y="242" width="18" height="8" fill="#340037"/>
<rect x="450" y="250" width="18" height="8" fill="#400044"/>
<rect x="450" y="258" width="18" height="8" fill="#430050"/>
<rect x="450" y="266" width="18" height="8" fill="#2c0065"/>
<rect x="450" y="274" width="18" height="8" fill="#1a0075"/>
<rect x="450" y="282" width="18" height="8" fill="#02008a"/>
<rect x="450" y="290" width="18" height="8" fill="#063e4e"/>
<rect x="450" y="298" width="18" height="8" fill="#0e8804"/>
<rect x="450" y="306" width="18" height="8" fill="#50a100"/>
<rect x="450" y="314" width="18" height="8" fill="#c8c800"/>
<rect x="450" y="322" width="18" height="8" fill="#ca8400"/>
<rect x="450" y="330" width="18" height="8" fill="#cc4800"/>
<rect x="450" y="338" width="18" height="8" fill="#d11c00"/>
<rect x="450" y="346" width="18" height="8" fill="#db1500"/>
<rect x="450" y="354" width="18" height="8" fill="#e21100"/>
<rect x="450" y="362" width="18" height="8" fill="#ea0d00"/>
<rect x="450" y="370" width="18" height="16" fill="#f10900"/>
<rect x="450" y="386" width="18" height="16" fill="#f40600"/>
<rect x="450" y="402" width="18" height="16" fill="#f10900"/>
<rect x="450" y="418" width="18" height="16" fill="#ea0d00"/>
<rect x="450" y="434" width="18" height="8" fill="#ea0c00"/>
<rect x="450" y="442" width="18" height="16" fill="#eb0c00"/>
<rect x="450" y="458" width="18" height="8" fill="#ec0c00"/>
<rect x="450" y="466" width="18" height="16" fill="#ec0b00"/>
<rect x="450" y="482" width="18" height="16" fill="#ed0b00"/>
<rect x="450" y="498" width="18" height="16" fill="#f80400"/>
<rect x="450" y="514" width="18" height="8" fill="#ff1a1a"/>
<rect x="450" y="522" width="18" height="8" fill="#ff4040"/>
<rect x="450" y="530" width="18" height="8" fill="#ff6666"/>
<rect x="450" y="538" width="18" height="16" fill="#ff8c8c"/>
<rect x="450" y="554" width="18" height="8" fill="#ff5959"/>
<rect x="450" y="562" width="18" height="8" fill="#ff0d0d"/>
<rect x="450" y="570" width="18" height="8" fill="#e21100"/>
<rect x="450" y="578" width="18" height="8" fill="#cc4800"/>
<rect x="450" y="586" width="18" height="8" fill="#ca8400"/>
<rect x="450" y="594" width="18" height="8" fill="#c8c800"/>
<rect x="450" y="602" width="18" height="8" fill="#68a900"/>
<rect x="450" y="610" width="18" height="8" fill="#0e8804"/>
<rect x="450" y="618" width="18" height="8" fill="#095f2d"/>
<rect x="450" y="626" width="18" height="8" fill="#052d5f"/>
<rect x="450" y="634" width="18" height="8" fill="#010c80"/>
<rect x="450" y="642" width="18" height="8" fill="#070086"/>
<rect x="450" y="650" width="18" height="8" fill="#10007e"/>
<rect x="450" y="658" width="18" height="8" fill="#1a0075"/>
<rect x="450" y="666" width="18" height="8" fill="#23006d"/>
<rect x="450" y="674" width="18" height="8" fill="#2c0065"/>
<rect x="450" y="682" width="18" height="16" fill="#310061"/>
<rect x="450" y="698" width="18" height="16" fill="#3a0058"/>
<rect x="468" y="178" width="18" height="64" fill="#200022"/>
<rect x="468" y="242" width="18" height="16" fill="#28002a"/>
<rect x="468" y="258" width="18" height="8" fill="#340037"/>
<rect x="468" y="266" width="18" height="8" fill="#3c003f"/>
<rect x="468" y="274" width="18" height="8" fill="#48004c"/>
<rect x="468" y="282" width="18" height="8" fill="#310061"/>
<rect x="468" y="290" width="18" height="8" fill="#1e0071"/>
<rect x="468" y="298" width="18" height="8" fill="#02008a"/>
<rect x="468" y="306" width="18" height="8" fill="#063e4e"/>
<rect x="468" y="314" width="18" height="8" fill="#0d800c"/>
<rect x="468" y="322" width="18" height="8" fill="#449d00"/>
<rect x="468" y="330" width="18" height="8" fill="#98b900"/>
<rect x="468" y="338" width="18" height="8" fill="#c9a600"/>
<rect x="468" y="346" width="18" height="8" fill="#ca7300"/>
<rect x="468" y="354" width="18" height="8" fill="#cc5100"/>
<rect x="468" y="362" width="18" height="8" fill="#cc3800"/>
<rect x="468" y="370" width="18" height="8" fill="#cd1e00"/>
<rect x="468" y="378" width="18" height="8" fill="#d41a00"/>
<rect x="468" y="386" width="18" height="8" fill="#db1500"/>
<rect x="468" y="394" width="18" height="8" fill="#df1300"/>
<rect x="468" y="402" width="18" height="56" fill="#e21100"/>
<rect x="468" y="458" width="18" height="8" fill="#e31100"/>
<rect x="468" y="466" width="18" height="8" fill="#e41000"/>
<rect x="468" y="474" width="18" height="8" fill="#e51000"/>
<rect x="468" y="482" width="18" height="16" fill="#e60f00"/>
<rect x="468" y="498" width="18" height="8" fill="#e70e00"/>
<rect x="468" y="506" width="18" height="8" fill="#e80e00"/>
<rect x="468" y="514" width="18" height="8" fill="#e90d00"/>
<rect x="468" y="522" width="18" height="8" fill="#ea0d00"/>
<rect x="468" y="530" width="18" height="8" fill="#fb0200"/>
<rect x="468" y="538" width="18" height="24" fill="#ff1a1a"/>
<rect x="468" y="562" width="18" height="8" fill="#ff0d0d"/>
<rect x="468" y="570" width="18" height="8" fill="#f40600"/>
<rect x="468" y="578" width="18" height="8" fill="#e21100"/>
<rect x="468" y="586" width="18" height="8" fill="#cd1e00"/>
<rect x="468" y="594" width="18" height="8" fill="#ca7300"/>
<rect x="468" y="602" width="18" height="8" fill="#c8c800"/>
<rect x="468" y="610" width="18" height="8" fill="#68a900"/>
<rect x="468" y="618" width="18" height="8" fill="#209200"/>
<rect x="468" y="626" width="18" height="8" fill="#095f2d"/>
<rect x="468" y="634" width="18" height="8" fill="#052d5f"/>
<rect x="468" y="642" width="18" height="8" fill="#000488"/>
<rect x="468" y="650" width="18" height="8" fill="#070086"/>
<rect x="468" y="658" width="18" height="8" fill="#10007e"/>
<rect x="468" y="666" width="18" height="8" fill="#1e0071"/>
<rect x="468" y="674" width="18" height="8" fill="#2c0065"/>
<rect x="468" y="682" width="18" height="8" fill="#3a0058"/>
<rect x="468" y="690" width="18" height="8" fill="#430050"/>
<rect x="468" y="698" width="18" height="8" fill="#45004f"/>
<rect x="468" y="706" width="18" height="8" fill="#46004e"/>
<rect x="468" y="714" width="18" height="8" fill="#47004d"/>
<rect x="468" y="722" width="18" height="8" fill="#48004c"/>
<rect x="486" y="194" width="18" height="64" fill="#1c001e"/>
<rect x="486" y="258" width="18" height="16" fill="#240026"/>
<rect x="486" y="274" width="18" height="8" fill="#2c002e"/>
<rect x="486" y="282" width="18" height="8" fill="#340037"/>
<rect x="486" y="290" width="18" height="8" fill="#440048"/>
<rect x="486" y="298" width="18" height="8" fill="#3a0058"/>
<rect x="486" y="306" width="18" height="8" fill="#270069"/>
<rect x="486" y="314" width="18" height="8" fill="#0c0082"/>
<rect x="486" y="322" width="18" height="8" fill="#042567"/>
<rect x="486" y="330" width="18" height="8" fill="#0b6f1d"/>
<rect x="486" y="338" width="18" height="8" fill="#2c9600"/>
<rect x="486" y="346" width="18" height="8" fill="#68a900"/>
<rect x="486" y="354" width="18" height="8" fill="#c8c800"/>
<rect x="486" y="362" width="18" height="8" fill="#c99e00"/>
<rect x="486" y="370" width="18" height="8" fill="#ca7300"/>
<rect x="486" y="378" width="18" height="8" fill="#cb5a00"/>
<rect x="486" y="386" width="18" height="8" fill="#cc3800"/>
<rect x="486" y="394" width="18" height="8" fill="#cd2600"/>
<rect x="486" y="402" width="18" height="8" fill="#cd1e00"/>
<rect x="486" y="410" width="18" height="8" fill="#ce1d00"/>
<rect x="486" y="418" width="18" height="8" fill="#cf1d00"/>
<rect x="486" y="426" width="18" height="8" fill="#d11c00"/>
<rect x="486" y="434" width="18" height="8" fill="#d21b00"/>
<rect x="486" y="442" width="18" height="8" fill="#d31a00"/>
<rect x="486" y="450" width="18" height="16" fill="#d41a00"/>
<rect x="486" y="466" width="18" height="16" fill="#d51900"/>
<rect x="486" y="482" width="18" height="16" fill="#d61900"/>
<rect x="486" y="498" width="18" height="8" fill="#d61800"/>
<rect x="486" y="506" width="18" height="24" fill="#d71800"/>
<rect x="486" y="530" width="18" height="8" fill="#d81800"/>
<rect x="486" y="538" width="18" height="8" fill="#d71800"/>
<rect x="486" y="546" width="18" height="8" fill="#d61800"/>
<rect x="486" y="554" width="18" height="8" fill="#d61900"/>
<rect x="486" y="562" width="18" height="8" fill="#d51900"/>
<rect x="486" y="570" width="18" height="8" fill="#d41a00"/>
<rect x="486" y="578" width="18" height="8" fill="#cd2600"/>
<rect x="486" y="586" width="18" height="8" fill="#cc4800"/>
<rect x="486" y="594" width="18" height="8" fill="#cb6a00"/>
<rect x="486" y="602" width="18" height="8" fill="#c9a600"/>
<rect x="486" y="610" width="18" height="8" fill="#80b100"/>
<rect x="486" y="618" width="18" height="8" fill="#2c9600"/>
<rect x="486" y="626" width="18" height="8" fill="#0b6f1d"/>
<rect x="486" y="634" width="18" height="8" fill="#063e4e"/>
<rect x="486" y="642" width="18" height="8" fill="#010c80"/>
<rect x="486" y="650" width="18" height="8" fill="#070086"/>
<rect x="486" y="658" width="18" height="8" fill="#1a0075"/>
<rect x="486" y="666" width="18" height="8" fill="#2c0065"/>
<rect x="486" y="674" width="18" height="8" fill="#3a0058"/>
<rect x="486" y="682" width="18" height="16" fill="#430050"/>
<rect x="486" y="698" width="18" height="8" fill="#48004c"/>
<rect x="486" y="706" width="18" height="8" fill="#47004b"/>
<rect x="486" y="714" width="18" height="8" fill="#46004a"/>
<rect x="486" y="722" width="18" height="8" fill="#450049"/>
<rect x="486" y="730" width="18" height="8" fill="#440048"/>
<rect x="504" y="202" width="18" height="72" fill="#1c001e"/>
<rect x="504" y="274" width="18" height="16" fill="#240026"/>
<rect x="504" y="290" width="18" height="8" fill="#2c002e"/>
<rect x="504" y="298" width="18" height="8" fill="#340037"/>
<rect x="504" y="306" width="18" height="8" fill="#440048"/>
<rect x="504" y="314" width="18" height="8" fill="#310061"/>
<rect x="504" y="322" width="18" height="8" fill="#1a0075"/>
<rect x="504" y="330" width="18" height="8" fill="#02008a"/>
<rect x="504" y="338" width="18" height="8" fill="#052d5f"/>
<rect x="504" y="346" width="18" height="8" fill="#0a6725"/>
<rect x="504" y="354" width="18" height="8" fill="#209200"/>
<rect x="504" y="362" width="18" height="8" fill="#5ca500"/>
<rect x="504" y="370" width="18" height="8" fill="#98b900"/>
<rect x="504" y="378" width="18" height="8" fill="#c9ae00"/>
<rect x="504" y="386" width="18" height="8" fill="#ca8c00"/>
<rect x="504" y="394" width="18" height="8" fill="#cb6a00"/>
<rect x="504" y="402" width="18" height="8" fill="#cc5100"/>
<rect x="504" y="410" width="18" height="8" fill="#cc4000"/>
<rect x="504" y="418" width="18" height="40" fill="#cc3800"/>
<rect x="504" y="458" width="18" height="8" fill="#cc4000"/>
<rect x="504" y="466" width="18" height="8" fill="#cc5100"/>
<rect x="504" y="474" width="18" height="16" fill="#cb5a00"/>
<rect x="504" y="490" width="18" height="16" fill="#cb6a00"/>
<rect x="504" y="506" width="18" height="24" fill="#cb6e00"/>
<rect x="504" y="530" width="18" height="8" fill="#cb6200"/>
<rect x="504" y="538" width="18" height="32" fill="#cc5100"/>
<rect x="504" y="570" width="18" height="8" fill="#cb6200"/>
<rect x="504" y="578" width="18" height="8" fill="#ca7c00"/>
<rect x="504" y="586" width="18" height="8" fill="#ca9500"/>
<rect x="504" y="594" width="18" height="8" fill="#c8b700"/>
<rect x="504" y="602" width="18" height="8" fill="#b0c000"/>
<rect x="504" y="610" width="18" height="8" fill="#68a900"/>
<rect x="504" y="618" width="18" height="8" fill="#209200"/>
<rect x="504" y="626" width="18" height="8" fill="#0b6f1d"/>
<rect x="504" y="634" width="18" height="8" fill="#063e4e"/>
<rect x="504" y="642" width="18" height="8" fill="#000488"/>
<rect x="504" y="650" width="18" height="8" fill="#10007e"/>
<rect x="504" y="658" width="18" height="8" fill="#1e0071"/>
<rect x="504" y="666" width="18" height="8" fill="#35005d"/>
<rect x="504" y="674" width="18" height="8" fill="#430050"/>
<rect x="504" y="682" width="18" height="8" fill="#440048"/>
<rect x="504" y="690" width="18" height="8" fill="#440047"/>
<rect x="504" y="698" width="18" height="8" fill="#430047"/>
<rect x="504" y="706" width="18" height="16" fill="#420046"/>
<rect x="504" y="722" width="18" height="8" fill="#420045"/>
<rect x="504" y="730" width="18" height="8" fill="#410045"/>
<rect x="504" y="738" width="18" height="16" fill="#400044"/>
<rect x="522" y="218" width="18" height="72" fill="#1c001e"/>
<rect x="522" y="290" width="18" height="8" fill="#240026"/>
<rect x="522" y="298" width="18" height="8" fill="#28002a"/>
<rect x="522" y="306" width="18" height="8" fill="#340037"/>
<rect x="522" y="314" width="18" height="8" fill="#440048"/>
<rect x="522" y="322" width="18" height="8" fill="#3a0058"/>
<rect x="522" y="330" width="18" height="8" fill="#270069"/>
<rect x="522" y="338" width="18" height="8" fill="#1a0075"/>
<rect x="522" y="346" width="18" height="8" fill="#070086"/>
<rect x="522" y="354" width="18" height="8" fill="#031d6f"/>
<rect x="522" y="362" width="18" height="8" fill="#084e3e"/>
<rect x="522" y="370" width="18" height="8" fill="#0e8804"/>
<rect x="522" y="378" width="18" height="8" fill="#389a00"/>
<rect x="522" y="386" width="18" height="8" fill="#68a900"/>
<rect x="522" y="394" width="18" height="8" fill="#98b900"/>
<rect x="522" y="402" width="18" height="8" fill="#c8c800"/>
<rect x="522" y="410" width="18" height="8" fill="#c9ae00"/>
<rect x="522" y="418" width="18" height="16" fill="#c99e00"/>
<rect x="522" y="434" width="18" height="24" fill="#ca9500"/>
<rect x="522" y="458" width="18" height="8" fill="#c9a600"/>
<rect x="522" y="466" width="18" height="8" fill="#c8b700"/>
<rect x="522" y="474" width="18" height="24" fill="#c8c800"/>
<rect x="522" y="498" width="18" height="48" fill="#b0c000"/>
<rect x="522" y="546" width="18" height="24" fill="#c8c800"/>
<rect x="522" y="570" width="18" height="8" fill="#b0c000"/>
<rect x="522" y="578" width="18" height="8" fill="#98b900"/>
<rect x="522" y="586" width="18" height="8" fill="#74ad00"/>
<rect x="522" y="594" width="18" height="8" fill="#5ca500"/>
<rect x="522" y="602" width="18" height="8" fill="#50a100"/>
<rect x="522" y="610" width="18" height="8" fill="#0e8804"/>
<rect x="522" y="618" width="18" height="8" fill="#095f2d"/>
<rect x="522" y="626" width="18" height="8" fill="#052d5f"/>
<rect x="522" y="634" width="18" height="8" fill="#02008a"/>
<rect x="522" y="642" width="18" height="8" fill="#10007e"/>
<rect x="522" y="650" width="18" height="8" fill="#1e0071"/>
<rect x="522" y="658" width="18" height="8" fill="#2c0065"/>
<rect x="522" y="666" width="18" height="8" fill="#3f0054"/>
<rect x="522" y="674" width="18" height="8" fill="#440048"/>
<rect x="522" y="682" width="18" height="8" fill="#430046"/>
<rect x="522" y="690" width="18" height="8" fill="#410045"/>
<rect x="522" y="698" width="18" height="8" fill="#400044"/>
<rect x="522" y="706" width="18" height="8" fill="#38003b"/>
<rect x="522" y="714" width="18" height="8" fill="#37003a"/>
<rect x="522" y="722" width="18" height="8" fill="#350038"/>
<rect x="522" y="730" width="18" height="8" fill="#340037"/>
<rect x="522" y="738" width="18" height="8" fill="#330036"/>
<rect x="522" y="746" width="18" height="8" fill="#320035"/>
<rect x="522" y="754" width="18" height="8" fill="#310034"/>
<rect x="522" y="762" width="18" height="8" fill="#300033"/>
<rect x="540" y="234" width="18" height="8" fill="#1c001e"/>
<rect x="540" y="242" width="18" height="8" fill="#1d001e"/>
<rect x="540" y="250" width="18" height="8" fill="#1d001f"/>
<rect x="540" y="258" width="18" height="8" fill="#1e001f"/>
<rect x="540" y="266" width="18" height="8" fill="#1e0020"/>
<rect x="540" y="274" width="18" height="16" fill="#1f0021"/>
<rect x="540" y="290" width="18" height="8" fill="#200022"/>
<rect x="540" y="298" width="18" height="8" fill="#28002a"/>
<rect x="540" y="306" width="18" height="8" fill="#300033"/>
<rect x="540" y="314" width="18" height="8" fill="#38003b"/>
<rect x="540" y="322" width="18" height="8" fill="#400044"/>
<rect x="540" y="330" width="18" height="8" fill="#430050"/>
<rect x="540" y="338" width="18" height="8" fill="#35005d"/>
<rect x="540" y="346" width="18" height="8" fill="#270069"/>
<rect x="540" y="354" width="18" height="8" fill="#1e0071"/>
<rect x="540" y="362" width="18" height="8" fill="#10007e"/>
<rect x="540" y="370" width="18" height="8" fill="#02008a"/>
<rect x="540" y="378" width="18" height="8" fill="#010c80"/>
<rect x="540" y="386" width="18" height="8" fill="#042567"/>
<rect x="540" y="394" width="18" height="8" fill="#095636"/>
<rect x="540" y="402" width="18" height="8" fill="#0d800c"/>
<rect x="540" y="410" width="18" height="8" fill="#148e00"/>
<rect x="540" y="418" width="18" height="16" fill="#2c9600"/>
<rect x="540" y="434" width="18" height="32" fill="#389a00"/>
<rect x="540" y="466" width="18" height="8" fill="#2c9600"/>
<rect x="540" y="474" width="18" height="16" fill="#209200"/>
<rect x="540" y="490" width="18" height="80" fill="#0e8804"/>
<rect x="540" y="570" width="18" height="16" fill="#0d800c"/>
<rect x="540" y="586" width="18" height="8" fill="#0a6725"/>
<rect x="540" y="594" width="18" height="8" fill="#084e3e"/>
<rect x="540" y="602" width="18" height="8" fill="#074646"/>
<rect x="540" y="610" width="18" height="8" fill="#042567"/>
<rect x="540" y="618" width="18" height="16" fill="#000488"/>
<rect x="540" y="634" width="18" height="8" fill="#10007e"/>
<rect x="540" y="642" width="18" height="8" fill="#1e0071"/>
<rect x="540" y="650" width="18" height="8" fill="#310061"/>
<rect x="540" y="658" width="18" height="8" fill="#430050"/>
<rect x="540" y="666" width="18" height="8" fill="#48004c"/>
<rect x="540" y="674" width="18" height="8" fill="#400044"/>
<rect x="540" y="682" width="18" height="8" fill="#3e0041"/>
<rect x="540" y="690" width="18" height="8" fill="#3c003f"/>
<rect x="540" y="698" width="18" height="8" fill="#340037"/>
<rect x="540" y="706" width="18" height="8" fill="#330036"/>
<rect x="540" y="714" width="18" height="8" fill="#320035"/>
<rect x="540" y="722" width="18" height="8" fill="#310034"/>
<rect x="540" y="730" width="18" height="8" fill="#300033"/>
<rect x="540" y="738" width="18" height="8" fill="#2f0031"/>
<rect x="540" y="746" width="18" height="8" fill="#2d0030"/>
<rect x="540" y="754" width="18" height="8" fill="#2c002e"/>
<rect x="540" y="762" width="18" height="8" fill="#2b002d"/>
<rect x="540" y="770" width="18" height="8" fill="#29002c"/>
<rect x="540" y="778" width="18" height="8" fill="#28002a"/>
<rect x="558" y="250" width="18" height="8" fill="#1c001e"/>
<rect x="558" y="258" width="18" height="8" fill="#1d001f"/>
<rect x="558" y="266" width="18" height="8" fill="#1e0020"/>
<rect x="558" y="274" width="18" height="8" fill="#1f0021"/>
<rect x="558" y="282" width="18" height="8" fill="#200022"/>
<rect x="558" y="290" width="18" height="8" fill="#230025"/>
<rect x="558" y="298" width="18" height="8" fill="#250027"/>
<rect x="558" y="306" width="18" height="8" fill="#28002a"/>
<rect x="558" y="314" width="18" height="8" fill="#300033"/>
<rect x="558" y="322" width="18" height="8" fill="#320035"/>
<rect x="558" y="330" width="18" height="8" fill="#340037"/>
<rect x="558" y="338" width="18" height="8" fill="#38003b"/>
<rect x="558" y="346" width="18" height="8" fill="#3c003f"/>
<rect x="558" y="354" width="18" height="8" fill="#440048"/>
<rect x="558" y="362" width="18" height="8" fill="#430050"/>
<rect x="558" y="370" width="18" height="8" fill="#3a0058"/>
<rect x="558" y="378" width="18" height="8" fill="#310061"/>
<rect x="558" y="386" width="18" height="8" fill="#270069"/>
<rect x="558" y="394" width="18" height="8" fill="#1e0071"/>
<rect x="558" y="402" width="18" height="8" fill="#150079"/>
<rect x="558" y="410" width="18" height="8" fill="#0c0082"/>
<rect x="558" y="418" width="18" height="16" fill="#070086"/>
<rect x="558" y="434" width="18" height="24" fill="#02008a"/>
<rect x="558" y="458" width="18" height="8" fill="#02008b"/>
<rect x="558" y="466" width="18" height="24" fill="#01008b"/>
<rect x="558" y="490" width="18" height="8" fill="#01008c"/>
<rect x="558" y="498" width="18" height="24" fill="#00008c"/>
<rect x="558" y="522" width="18" height="16" fill="#00018b"/>
<rect x="558" y="538" width="18" height="16" fill="#00028a"/>
<rect x="558" y="554" width="18" height="16" fill="#000389"/>
<rect x="558" y="570" width="18" height="16" fill="#000488"/>
<rect x="558" y="586" width="18" height="8" fill="#0c0082"/>
<rect x="558" y="594" width="18" height="16" fill="#1a0075"/>
<rect x="558" y="610" width="18" height="8" fill="#1e0071"/>
<rect x="558" y="618" width="18" height="8" fill="#270069"/>
<rect x="558" y="626" width="18" height="16" fill="#35005d"/>
<rect x="558" y="642" width="18" height="8" fill="#430050"/>
<rect x="558" y="650" width="18" height="8" fill="#48004c"/>
<rect x="558" y="658" width="18" height="8" fill="#440048"/>
<rect x="558" y="666" width="18" height="8" fill="#400044"/>
<rect x="558" y="674" width="18" height="8" fill="#38003b"/>
<rect x="558" y="682" width="18" height="8" fill="#340037"/>
<rect x="558" y="690" width="18" height="8" fill="#300033"/>
<rect x="558" y="698" width="18" height="8" fill="#2d0030"/>
<rect x="558" y="706" width="18" height="8" fill="#2b002d"/>
<rect x="558" y="714" width="18" height="8" fill="#28002a"/>
<rect x="558" y="722" width="18" height="8" fill="#240026"/>
<rect x="558" y="730" width="18" height="8" fill="#230025"/>
<rect x="558" y="738" width="18" height="8" fill="#220024"/>
<rect x="558" y="746" width="18" height="8" fill="#210023"/>
<rect x="558" y="754" width="18" height="8" fill="#200022"/>
<rect x="558" y="762" width="18" height="8" fill="#200021"/>
<rect x="558" y="770" width="18" height="8" fill="#1f0020"/>
<rect x="558" y="778" width="18" height="8" fill="#1e001f"/>
<rect x="558" y="786" width="18" height="8" fill="#1d001e"/>
<rect x="558" y="794" width="18" height="8" fill="#1c001e"/>
<rect x="576" y="266" width="18" height="8" fill="#240026"/>
<rect x="576" y="274" width="18" height="8" fill="#250027"/>
<rect x="576" y="282" width="18" height="8" fill="#260028"/>
<rect x="576" y="290" width="18" height="8" fill="#260029"/>
<rect x="576" y="298" width="18" height="8" fill="#270029"/>
<rect x="576" y="306" width="18" height="8" fill="#28002a"/>
<rect x="576" y="314" width="18" height="8" fill="#2a002c"/>
<rect x="576" y="322" width="18" height="8" fill="#2b002e"/>
<rect x="576" y="330" width="18" height="8" fill="#2d002f"/>
<rect x="576" y="338" width="18" height="8" fill="#2e0031"/>
<rect x="576" y="346" width="18" height="8" fill="#300033"/>
<rect x="576" y="354" width="18" height="8" fill="#320035"/>
<rect x="576" y="362" width="18" height="8" fill="#340037"/>
<rect x="576" y="370" width="18" height="8" fill="#360039"/>
<rect x="576" y="378" width="18" height="8" fill="#38003b"/>
<rect x="576" y="386" width="18" height="8" fill="#3c003f"/>
<rect x="576" y="394" width="18" height="8" fill="#3e0041"/>
<rect x="576" y="402" width="18" height="8" fill="#3f0043"/>
<rect x="576" y="410" width="18" height="8" fill="#410044"/>
<rect x="576" y="418" width="18" height="8" fill="#420046"/>
<rect x="576" y="426" width="18" height="8" fill="#440048"/>
<rect x="576" y="434" width="18" height="8" fill="#47004b"/>
<rect x="576" y="442" width="18" height="8" fill="#46004e"/>
<rect x="576" y="450" width="18" height="8" fill="#420051"/>
<rect x="576" y="458" width="18" height="8" fill="#3f0054"/>
<rect x="576" y="466" width="18" height="8" fill="#3c0056"/>
<rect x="576" y="474" width="18" height="8" fill="#3a0058"/>
<rect x="576" y="482" width="18" height="8" fill="#38005a"/>
<rect x="576" y="490" width="18" height="16" fill="#35005d"/>
<rect x="576" y="506" width="18" height="8" fill="#34005e"/>
<rect x="576" y="514" width="18" height="8" fill="#33005e"/>
<rect x="576" y="522" width="18" height="8" fill="#33005f"/>
<rect x="576" y="530" width="18" height="8" fill="#320060"/>
<rect x="576" y="538" width="18" height="8" fill="#310060"/>
<rect x="576" y="546" width="18" height="8" fill="#300061"/>
<rect x="576" y="554" width="18" height="8" fill="#300062"/>
<rect x="576" y="562" width="18" height="8" fill="#2f0062"/>
<rect x="576" y="570" width="18" height="8" fill="#2e0063"/>
<rect x="576" y="578" width="18" height="8" fill="#2e0064"/>
<rect x="576" y="586" width="18" height="8" fill="#2d0064"/>
<rect x="576" y="594" width="18" height="8" fill="#2c0065"/>
<rect x="576" y="602" width="18" height="8" fill="#3a0058"/>
<rect x="576" y="610" width="18" height="8" fill="#410052"/>
<rect x="576" y="618" width="18" height="24" fill="#48004c"/>
<rect x="576" y="642" width="18" height="32" fill="#3c003f"/>
<rect x="576" y="674" width="18" height="56" fill="#28002a"/>
<rect x="576" y="730" width="18" height="88" fill="#200022"/>
<rect x="594" y="282" width="18" height="104" fill="#200022"/>
<rect x="594" y="386" width="18" height="16" fill="#240026"/>
<rect x="594" y="402" width="18" height="24" fill="#250027"/>
<rect x="594" y="426" width="18" height="24" fill="#260028"/>
<rect x="594" y="450" width="18" height="8" fill="#260029"/>
<rect x="594" y="458" width="18" height="16" fill="#270029"/>
<rect x="594" y="474" width="18" height="8" fill="#27002a"/>
<rect x="594" y="482" width="18" height="16" fill="#28002a"/>
<rect x="594" y="498" width="18" height="8" fill="#29002b"/>
<rect x="594" y="506" width="18" height="8" fill="#2a002c"/>
<rect x="594" y="514" width="18" height="8" fill="#2b002d"/>
<rect x="594" y="522" width="18" height="8" fill="#2c002e"/>
<rect x="594" y="530" width="18" height="8" fill="#2d002f"/>
<rect x="594" y="538" width="18" height="8" fill="#2e0030"/>
<rect x="594" y="546" width="18" height="8" fill="#2e0031"/>
<rect x="594" y="554" width="18" height="8" fill="#2f0032"/>
<rect x="594" y="562" width="18" height="8" fill="#300033"/>
<rect x="594" y="570" width="18" height="8" fill="#310034"/>
<rect x="594" y="578" width="18" height="8" fill="#320035"/>
<rect x="594" y="586" width="18" height="8" fill="#330036"/>
<rect x="594" y="594" width="18" height="16" fill="#340037"/>
<rect x="594" y="610" width="18" height="8" fill="#330036"/>
<rect x="594" y="618" width="18" height="8" fill="#320035"/>
<rect x="594" y="626" width="18" height="8" fill="#310034"/>
<rect x="594" y="634" width="18" height="8" fill="#300033"/>
<rect x="594" y="642" width="18" height="8" fill="#2e0031"/>
<rect x="594" y="650" width="18" height="8" fill="#2c002e"/>
<rect x="594" y="658" width="18" height="8" fill="#2a002c"/>
<rect x="594" y="666" width="18" height="8" fill="#28002a"/>
<rect x="594" y="674" width="18" height="8" fill="#270029"/>
<rect x="594" y="682" width="18" height="8" fill="#250027"/>
<rect x="594" y="690" width="18" height="8" fill="#240026"/>
<rect x="594" y="698" width="18" height="8" fill="#230025"/>
<rect x="594" y="706" width="18" height="8" fill="#210023"/>
<rect x="594" y="714" width="18" height="8" fill="#200022"/>
<rect x="594" y="722" width="18" height="8" fill="#200021"/>
<rect x="594" y="730" width="18" height="16" fill="#1f0021"/>
<rect x="594" y="746" width="18" height="8" fill="#1f0020"/>
<rect x="594" y="754" width="18" height="16" fill="#1e0020"/>
<rect x="594" y="770" width="18" height="8" fill="#1e001f"/>
<rect x="594" y="778" width="18" height="16" fill="#1d001f"/>
<rect x="594" y="794" width="18" height="8" fill="#1d001e"/>
<rect x="594" y="802" width="18" height="16" fill="#1c001e"/>
<rect x="612" y="290" width="18" height="104" fill="#180019"/>
<rect x="612" y="394" width="18" height="8" fill="#18001a"/>
<rect x="612" y="402" width="18" height="8" fill="#19001a"/>
<rect x="612" y="410" width="18" height="8" fill="#19001b"/>
<rect x="612" y="418" width="18" height="8" fill="#1a001b"/>
<rect x="612" y="426" width="18" height="8" fill="#1a001c"/>
<rect x="612" y="434" width="18" height="8" fill="#1b001c"/>
<rect x="612" y="442" width="18" height="8" fill="#1b001d"/>
<rect x="612" y="450" width="18" height="8" fill="#1c001d"/>
<rect x="612" y="458" width="18" height="8" fill="#1c001e"/>
<rect x="612" y="466" width="18" height="8" fill="#1d001e"/>
<rect x="612" y="474" width="18" height="8" fill="#1d001f"/>
<rect x="612" y="482" width="18" height="8" fill="#1e001f"/>
<rect x="612" y="490" width="18" height="16" fill="#1e0020"/>
<rect x="612" y="506" width="18" height="16" fill="#1f0021"/>
<rect x="612" y="522" width="18" height="16" fill="#200022"/>
<rect x="612" y="538" width="18" height="16" fill="#210023"/>
<rect x="612" y="554" width="18" height="16" fill="#220024"/>
<rect x="612" y="570" width="18" height="16" fill="#230025"/>
<rect x="612" y="586" width="18" height="16" fill="#240026"/>
<rect x="612" y="602" width="18" height="8" fill="#260029"/>
<rect x="612" y="610" width="18" height="8" fill="#250027"/>
<rect x="612" y="618" width="18" height="8" fill="#240026"/>
<rect x="612" y="626" width="18" height="8" fill="#230025"/>
<rect x="612" y="634" width="18" height="8" fill="#220024"/>
<rect x="612" y="642" width="18" height="8" fill="#210023"/>
<rect x="612" y="650" width="18" height="168" fill="#200022"/>
<rect x="630" y="298" width="18" height="104" fill="#100011"/>
<rect x="630" y="402" width="18" height="24" fill="#110012"/>
<rect x="630" y="426" width="18" height="32" fill="#120013"/>
<rect x="630" y="458" width="18" height="24" fill="#130014"/>
<rect x="630" y="482" width="18" height="24" fill="#140015"/>
<rect x="630" y="506" width="18" height="24" fill="#150016"/>
<rect x="630" y="530" width="18" height="24" fill="#160017"/>
<rect x="630" y="554" width="18" height="8" fill="#160018"/>
<rect x="630" y="562" width="18" height="16" fill="#170018"/>
<rect x="630" y="578" width="18" height="8" fill="#170019"/>
<rect x="630" y="586" width="18" height="16" fill="#180019"/>
<rect x="630" y="602" width="18" height="8" fill="#1c001e"/>
<rect x="630" y="610" width="18" height="8" fill="#1d001f"/>
<rect x="630" y="618" width="18" height="8" fill="#1f0020"/>
<rect x="630" y="626" width="18" height="8" fill="#200022"/>
<rect x="630" y="634" width="18" height="8" fill="#210023"/>
<rect x="630" y="642" width="18" height="8" fill="#230025"/>
<rect x="630" y="650" width="18" height="16" fill="#240026"/>
<rect x="630" y="666" width="18" height="16" fill="#250027"/>
<rect x="630" y="682" width="18" height="16" fill="#260028"/>
<rect x="630" y="698" width="18" height="8" fill="#260029"/>
<rect x="630" y="706" width="18" height="16" fill="#270029"/>
<rect x="630" y="722" width="18" height="16" fill="#28002a"/>
<rect x="630" y="738" width="18" height="8" fill="#28002b"/>
<rect x="630" y="746" width="18" height="16" fill="#29002b"/>
<rect x="630" y="762" width="18" height="16" fill="#2a002c"/>
<rect x="630" y="778" width="18" height="8" fill="#2a002d"/>
<rect x="630" y="786" width="18" height="8" fill="#2b002d"/>
<rect x="630" y="794" width="18" height="8" fill="#2b002e"/>
<rect x="630" y="802" width="18" height="16" fill="#2c002e"/>
<rect x="648" y="298" width="18" height="16" fill="#100011"/>
<rect x="648" y="314" width="18" height="24" fill="#110012"/>
<rect x="648" y="338" width="18" height="16" fill="#120013"/>
<rect x="648" y="354" width="18" height="24" fill="#130014"/>
<rect x="648" y="378" width="18" height="24" fill="#140015"/>
<rect x="648" y="402" width="18" height="24" fill="#150016"/>
<rect x="648" y="426" width="18" height="24" fill="#160017"/>
<rect x="648" y="450" width="18" height="8" fill="#160018"/>
<rect x="648" y="458" width="18" height="16" fill="#170018"/>
<rect x="648" y="474" width="18" height="8" fill="#170019"/>
<rect x="648" y="482" width="18" height="16" fill="#180019"/>
<rect x="648" y="498" width="18" height="8" fill="#19001a"/>
<rect x="648" y="506" width="18" height="8" fill="#1a001b"/>
<rect x="648" y="514" width="18" height="8" fill="#1b001c"/>
<rect x="648" y="522" width="18" height="8" fill="#1c001d"/>
<rect x="648" y="530" width="18" height="8" fill="#1d001e"/>
<rect x="648" y="538" width="18" height="8" fill="#1e001f"/>
<rect x="648" y="546" width="18" height="8" fill="#1e0020"/>
<rect x="648" y="554" width="18" height="8" fill="#1f0021"/>
<rect x="648" y="562" width="18" height="8" fill="#200022"/>
<rect x="648" y="570" width="18" height="8" fill="#210023"/>
<rect x="648" y="578" width="18" height="8" fill="#220024"/>
<rect x="648" y="586" width="18" height="8" fill="#230025"/>
<rect x="648" y="594" width="18" height="8" fill="#240026"/>
<rect x="648" y="602" width="18" height="8" fill="#28002a"/>
<rect x="648" y="610" width="18" height="8" fill="#2a002c"/>
<rect x="648" y="618" width="18" height="8" fill="#2c002e"/>
<rect x="648" y="626" width="18" height="8" fill="#2e0031"/>
<rect x="648" y="634" width="18" height="8" fill="#300033"/>
<rect x="648" y="642" width="18" height="8" fill="#320035"/>
<rect x="648" y="650" width="18" height="8" fill="#340037"/>
<rect x="648" y="658" width="18" height="16" fill="#350038"/>
<rect x="648" y="674" width="18" height="8" fill="#360039"/>
<rect x="648" y="682" width="18" height="16" fill="#37003a"/>
<rect x="648" y="698" width="18" height="8" fill="#38003b"/>
<rect x="648" y="706" width="18" height="8" fill="#39003d"/>
<rect x="648" y="714" width="18" height="8" fill="#3b003e"/>
<rect x="648" y="722" width="18" height="8" fill="#3c003f"/>
<rect x="648" y="730" width="18" height="8" fill="#3d0041"/>
<rect x="648" y="738" width="18" height="8" fill="#3f0042"/>
<rect x="648" y="746" width="18" height="16" fill="#400044"/>
<rect x="648" y="762" width="18" height="8" fill="#410045"/>
<rect x="648" y="770" width="18" height="8" fill="#420045"/>
<rect x="648" y="778" width="18" height="16" fill="#420046"/>
<rect x="648" y="794" width="18" height="8" fill="#430047"/>
<rect x="648" y="802" width="18" height="8" fill="#440047"/>
<rect x="648" y="810" width="18" height="8" fill="#440048"/>
<rect x="666" y="290" width="18" height="8" fill="#240026"/>
<rect x="666" y="298" width="18" height="8" fill="#250027"/>
<rect x="666" y="306" width="18" height="8" fill="#250028"/>
<rect x="666" y="314" width="18" height="8" fill="#260028"/>
<rect x="666" y="322" width="18" height="8" fill="#270029"/>
<rect x="666" y="330" width="18" height="8" fill="#28002a"/>
<rect x="666" y="338" width="18" height="8" fill="#28002b"/>
<rect x="666" y="346" width="18" height="8" fill="#29002b"/>
<rect x="666" y="354" width="18" height="8" fill="#2a002c"/>
<rect x="666" y="362" width="18" height="8" fill="#2b002d"/>
<rect x="666" y="370" width="18" height="8" fill="#2b002e"/>
<rect x="666" y="378" width="18" height="8" fill="#2c002e"/>
<rect x="666" y="386" width="18" height="8" fill="#300033"/>
<rect x="666" y="394" width="18" height="8" fill="#310033"/>
<rect x="666" y="402" width="18" height="8" fill="#310034"/>
<rect x="666" y="410" width="18" height="16" fill="#320035"/>
<rect x="666" y="426" width="18" height="8" fill="#330036"/>
<rect x="666" y="434" width="18" height="16" fill="#340037"/>
<rect x="666" y="450" width="18" height="8" fill="#350038"/>
<rect x="666" y="458" width="18" height="16" fill="#360039"/>
<rect x="666" y="474" width="18" height="16" fill="#37003a"/>
<rect x="666" y="490" width="18" height="8" fill="#38003b"/>
<rect x="666" y="498" width="18" height="8" fill="#39003c"/>
<rect x="666" y="506" width="18" height="8" fill="#3a003e"/>
<rect x="666" y="514" width="18" height="8" fill="#3c003f"/>
<rect x="666" y="522" width="18" height="8" fill="#3d0040"/>
<rect x="666" y="530" width="18" height="8" fill="#3e0042"/>
<rect x="666" y="538" width="18" height="8" fill="#3f0043"/>
<rect x="666" y="546" width="18" height="8" fill="#410044"/>
<rect x="666" y="554" width="18" height="8" fill="#420046"/>
<rect x="666" y="562" width="18" height="8" fill="#430047"/>
<rect x="666" y="570" width="18" height="8" fill="#440048"/>
<rect x="666" y="578" width="18" height="8" fill="#460049"/>
<rect x="666" y="586" width="18" height="8" fill="#47004b"/>
<rect x="666" y="594" width="18" height="8" fill="#48004c"/>
<rect x="666" y="602" width="18" height="8" fill="#3f0054"/>
<rect x="666" y="610" width="18" height="8" fill="#3d0056"/>
<rect x="666" y="618" width="18" height="8" fill="#3c0057"/>
<rect x="666" y="626" width="18" height="8" fill="#3a0058"/>
<rect x="666" y="634" width="18" height="8" fill="#39005a"/>
<rect x="666" y="642" width="18" height="8" fill="#37005b"/>
<rect x="666" y="650" width="18" height="16" fill="#35005d"/>
<rect x="666" y="666" width="18" height="8" fill="#34005d"/>
<rect x="666" y="674" width="18" height="16" fill="#34005e"/>
<rect x="666" y="690" width="18" height="16" fill="#33005f"/>
<rect x="666" y="706" width="18" height="8" fill="#32005f"/>
<rect x="666" y="714" width="18" height="8" fill="#320060"/>
<rect x="666" y="722" width="18" height="8" fill="#310060"/>
<rect x="666" y="730" width="18" height="8" fill="#310061"/>
<rect x="666" y="738" width="18" height="16" fill="#300061"/>
<rect x="666" y="754" width="18" height="16" fill="#2f0062"/>
<rect x="666" y="770" width="18" height="16" fill="#2e0063"/>
<rect x="666" y="786" width="18" height="8" fill="#2e0064"/>
<rect x="666" y="794" width="18" height="16" fill="#2d0064"/>
<rect x="666" y="810" width="18" height="8" fill="#2c0065"/>
<rect x="684" y="170" width="18" height="112" fill="#0c000d"/>
<rect x="684" y="282" width="18" height="8" fill="#48004c"/>
<rect x="684" y="290" width="18" height="8" fill="#410052"/>
<rect x="684" y="298" width="18" height="8" fill="#3a0058"/>
<rect x="684" y="306" width="18" height="8" fill="#38005a"/>
<rect x="684" y="314" width="18" height="8" fill="#35005d"/>
<rect x="684" y="322" width="18" height="8" fill="#33005f"/>
<rect x="684" y="330" width="18" height="8" fill="#310061"/>
<rect x="684" y="338" width="18" height="8" fill="#2e0063"/>
<rect x="684" y="346" width="18" height="8" fill="#2c0065"/>
<rect x="684" y="354" width="18" height="8" fill="#2a0067"/>
<rect x="684" y="362" width="18" height="8" fill="#270069"/>
<rect x="684" y="370" width="18" height="8" fill="#25006b"/>
<rect x="684" y="378" width="18" height="8" fill="#23006d"/>
<rect x="684" y="386" width="18" height="8" fill="#22006e"/>
<rect x="684" y="394" width="18" height="8" fill="#21006f"/>
<rect x="684" y="402" width="18" height="8" fill="#1f0070"/>
<rect x="684" y="410" width="18" height="8" fill="#1e0071"/>
<rect x="684" y="418" width="18" height="8" fill="#1d0072"/>
<rect x="684" y="426" width="18" height="8" fill="#1c0073"/>
<rect x="684" y="434" width="18" height="8" fill="#1b0074"/>
<rect x="684" y="442" width="18" height="8" fill="#1a0074"/>
<rect x="684" y="450" width="18" height="8" fill="#1a0075"/>
<rect x="684" y="458" width="18" height="8" fill="#190076"/>
<rect x="684" y="466" width="18" height="8" fill="#180077"/>
<rect x="684" y="474" width="18" height="8" fill="#170078"/>
<rect x="684" y="482" width="18" height="8" fill="#160079"/>
<rect x="684" y="490" width="18" height="8" fill="#150079"/>
<rect x="684" y="498" width="18" height="8" fill="#14007a"/>
<rect x="684" y="506" width="18" height="16" fill="#13007b"/>
<rect x="684" y="522" width="18" height="8" fill="#12007c"/>
<rect x="684" y="530" width="18" height="16" fill="#11007d"/>
<rect x="684" y="546" width="18" height="8" fill="#10007e"/>
<rect x="684" y="554" width="18" height="8" fill="#0f007f"/>
<rect x="684" y="562" width="18" height="8" fill="#0e007f"/>
<rect x="684" y="570" width="18" height="8" fill="#0e0080"/>
<rect x="684" y="578" width="18" height="8" fill="#0d0080"/>
<rect x="684" y="586" width="18" height="8" fill="#0c0081"/>
<rect x="684" y="594" width="18" height="8" fill="#0c0082"/>
<rect x="684" y="602" width="18" height="8" fill="#070086"/>
<rect x="684" y="610" width="18" height="8" fill="#060086"/>
<rect x="684" y="618" width="18" height="8" fill="#050087"/>
<rect x="684" y="626" width="18" height="8" fill="#050088"/>
<rect x="684" y="634" width="18" height="8" fill="#040089"/>
<rect x="684" y="642" width="18" height="8" fill="#030089"/>
<rect x="684" y="650" width="18" height="8" fill="#02008a"/>
<rect x="684" y="658" width="18" height="8" fill="#03008a"/>
<rect x="684" y="666" width="18" height="8" fill="#030089"/>
<rect x="684" y="674" width="18" height="8" fill="#040089"/>
<rect x="684" y="682" width="18" height="8" fill="#040088"/>
<rect x="684" y="690" width="18" height="8" fill="#050088"/>
<rect x="684" y="698" width="18" height="8" fill="#050087"/>
<rect x="684" y="706" width="18" height="16" fill="#060087"/>
<rect x="684" y="722" width="18" height="16" fill="#070086"/>
<rect x="684" y="738" width="18" height="8" fill="#070085"/>
<rect x="684" y="746" width="18" height="16" fill="#080085"/>
<rect x="684" y="762" width="18" height="16" fill="#090084"/>
<rect x="684" y="778" width="18" height="16" fill="#0a0083"/>
<rect x="684" y="794" width="18" height="8" fill="#0b0083"/>
<rect x="684" y="802" width="18" height="8" fill="#0b0082"/>
<rect x="684" y="810" width="18" height="8" fill="#0c0082"/>
<rect x="702" y="170" width="18" height="96" fill="#0c000d"/>
<rect x="702" y="266" width="18" height="8" fill="#2c0065"/>
<rect x="702" y="274" width="18" height="8" fill="#2a0067"/>
<rect x="702" y="282" width="18" height="8" fill="#270069"/>
<rect x="702" y="290" width="18" height="8" fill="#25006b"/>
<rect x="702" y="298" width="18" height="8" fill="#23006d"/>
<rect x="702" y="306" width="18" height="8" fill="#21006f"/>
<rect x="702" y="314" width="18" height="8" fill="#1e0071"/>
<rect x="702" y="322" width="18" height="8" fill="#1c0073"/>
<rect x="702" y="330" width="18" height="8" fill="#1a0075"/>
<rect x="702" y="338" width="18" height="8" fill="#160079"/>
<rect x="702" y="346" width="18" height="8" fill="#12007c"/>
<rect x="702" y="354" width="18" height="8" fill="#0e007f"/>
<rect x="702" y="362" width="18" height="8" fill="#0b0083"/>
<rect x="702" y="370" width="18" height="8" fill="#070086"/>
<rect x="702" y="378" width="18" height="8" fill="#050088"/>
<rect x="702" y="386" width="18" height="8" fill="#02008a"/>
<rect x="702" y="394" width="18" height="16" fill="#010c80"/>
<rect x="702" y="410" width="18" height="8" fill="#042567"/>
<rect x="702" y="418" width="18" height="8" fill="#042864"/>
<rect x="702" y="426" width="18" height="8" fill="#042b61"/>
<rect x="702" y="434" width="18" height="8" fill="#052d5f"/>
<rect x="702" y="442" width="18" height="32" fill="#053656"/>
<rect x="702" y="474" width="18" height="8" fill="#074646"/>
<rect x="702" y="482" width="18" height="8" fill="#074943"/>
<rect x="702" y="490" width="18" height="8" fill="#084b41"/>
<rect x="702" y="498" width="18" height="56" fill="#084e3e"/>
<rect x="702" y="554" width="18" height="56" fill="#074646"/>
<rect x="702" y="610" width="18" height="8" fill="#074547"/>
<rect x="702" y="618" width="18" height="8" fill="#074349"/>
<rect x="702" y="626" width="18" height="8" fill="#07424a"/>
<rect x="702" y="634" width="18" height="8" fill="#06414b"/>
<rect x="702" y="642" width="18" height="8" fill="#063f4d"/>
<rect x="702" y="650" width="18" height="8" fill="#063e4e"/>
<rect x="702" y="658" width="18" height="8" fill="#063c50"/>
<rect x="702" y="666" width="18" height="8" fill="#063b51"/>
<rect x="702" y="674" width="18" height="8" fill="#063a52"/>
<rect x="702" y="682" width="18" height="8" fill="#063854"/>
<rect x="702" y="690" width="18" height="8" fill="#053755"/>
<rect x="702" y="698" width="18" height="8" fill="#053656"/>
<rect x="702" y="706" width="18" height="8" fill="#053458"/>
<rect x="702" y="714" width="18" height="8" fill="#053359"/>
<rect x="702" y="722" width="18" height="8" fill="#05315b"/>
<rect x="702" y="730" width="18" height="8" fill="#05305c"/>
<rect x="702" y="738" width="18" height="8" fill="#052f5d"/>
<rect x="702" y="746" width="18" height="8" fill="#052d5f"/>
<rect x="702" y="754" width="18" height="8" fill="#042b61"/>
<rect x="702" y="762" width="18" height="8" fill="#042963"/>
<rect x="702" y="770" width="18" height="8" fill="#042765"/>
<rect x="702" y="778" width="18" height="8" fill="#042567"/>
<rect x="702" y="786" width="18" height="8" fill="#03216b"/>
<rect x="702" y="794" width="18" height="8" fill="#031d6f"/>
<rect x="702" y="802" width="18" height="8" fill="#021973"/>
<rect x="702" y="810" width="18" height="8" fill="#021577"/>
<rect x="720" y="170" width="18" height="64" fill="#0c000d"/>
<rect x="720" y="234" width="18" height="8" fill="#1e0071"/>
<rect x="720" y="242" width="18" height="8" fill="#1d0072"/>
<rect x="720" y="250" width="18" height="8" fill="#1c0073"/>
<rect x="720" y="258" width="18" height="8" fill="#1b0074"/>
<rect x="720" y="266" width="18" height="8" fill="#1a0075"/>
<rect x="720" y="274" width="18" height="8" fill="#180076"/>
<rect x="720" y="282" width="18" height="8" fill="#170077"/>
<rect x="720" y="290" width="18" height="8" fill="#160078"/>
<rect x="720" y="298" width="18" height="8" fill="#150079"/>
<rect x="720" y="306" width="18" height="8" fill="#10007e"/>
<rect x="720" y="314" width="18" height="8" fill="#0c0082"/>
<rect x="720" y="322" width="18" height="8" fill="#070086"/>
<rect x="720" y="330" width="18" height="8" fill="#050088"/>
<rect x="720" y="338" width="18" height="8" fill="#02008a"/>
<rect x="720" y="346" width="18" height="8" fill="#010c80"/>
<rect x="720" y="354" width="18" height="8" fill="#031d6f"/>
<rect x="720" y="362" width="18" height="8" fill="#042567"/>
<rect x="720" y="370" width="18" height="8" fill="#052d5f"/>
<rect x="720" y="378" width="18" height="8" fill="#063e4e"/>
<rect x="720" y="386" width="18" height="8" fill="#084e3e"/>
<rect x="720" y="394" width="18" height="8" fill="#0a6725"/>
<rect x="720" y="402" width="18" height="16" fill="#0d800c"/>
<rect x="720" y="418" width="18" height="8" fill="#0e8804"/>
<rect x="720" y="426" width="18" height="8" fill="#0e8c00"/>
<rect x="720" y="434" width="18" height="104" fill="#148e00"/>
<rect x="720" y="538" width="18" height="64" fill="#0e8804"/>
<rect x="720" y="602" width="18" height="8" fill="#0d800c"/>
<rect x="720" y="610" width="18" height="8" fill="#0d7e0e"/>
<rect x="720" y="618" width="18" height="8" fill="#0c7c10"/>
<rect x="720" y="626" width="18" height="8" fill="#0c7913"/>
<rect x="720" y="634" width="18" height="8" fill="#0c7715"/>
<rect x="720" y="642" width="18" height="8" fill="#0c7616"/>
<rect x="720" y="650" width="18" height="8" fill="#0c7517"/>
<rect x="720" y="658" width="18" height="8" fill="#0c7319"/>
<rect x="720" y="666" width="18" height="8" fill="#0b721a"/>
<rect x="720" y="674" width="18" height="8" fill="#0b711b"/>
<rect x="720" y="682" width="18" height="8" fill="#0b6f1d"/>
<rect x="720" y="690" width="18" height="8" fill="#0b6d1f"/>
<rect x="720" y="698" width="18" height="8" fill="#0b6b21"/>
<rect x="720" y="706" width="18" height="8" fill="#0a6923"/>
<rect x="720" y="714" width="18" height="8" fill="#0a6725"/>
<rect x="720" y="722" width="18" height="8" fill="#0a6527"/>
<rect x="720" y="730" width="18" height="8" fill="#0a6329"/>
<rect x="720" y="738" width="18" height="8" fill="#0a612b"/>
<rect x="720" y="746" width="18" height="8" fill="#095f2d"/>
<rect x="720" y="754" width="18" height="8" fill="#095c30"/>
<rect x="720" y="762" width="18" height="8" fill="#095933"/>
<rect x="720" y="770" width="18" height="8" fill="#095636"/>
<rect x="720" y="778" width="18" height="8" fill="#084e3e"/>
<rect x="720" y="786" width="18" height="8" fill="#074646"/>
<rect x="720" y="794" width="18" height="8" fill="#053656"/>
<rect x="720" y="802" width="18" height="16" fill="#0c000d"/>
<rect x="738" y="170" width="18" height="40" fill="#0c000d"/>
<rect x="738" y="210" width="18" height="8" fill="#150079"/>
<rect x="738" y="218" width="18" height="8" fill="#13007b"/>
<rect x="738" y="226" width="18" height="8" fill="#11007d"/>
<rect x="738" y="234" width="18" height="8" fill="#0f007e"/>
<rect x="738" y="242" width="18" height="8" fill="#0d0080"/>
<rect x="738" y="250" width="18" height="8" fill="#0c0082"/>
<rect x="738" y="258" width="18" height="8" fill="#090084"/>
<rect x="738" y="266" width="18" height="8" fill="#050087"/>
<rect x="738" y="274" width="18" height="32" fill="#02008a"/>
<rect x="738" y="306" width="18" height="8" fill="#000488"/>
<rect x="738" y="314" width="18" height="8" fill="#021577"/>
<rect x="738" y="322" width="18" height="8" fill="#031d6f"/>
<rect x="738" y="330" width="18" height="8" fill="#042567"/>
<rect x="738" y="338" width="18" height="8" fill="#053656"/>
<rect x="738" y="346" width="18" height="8" fill="#074646"/>
<rect x="738" y="354" width="18" height="8" fill="#095636"/>
<rect x="738" y="362" width="18" height="8" fill="#0b6f1d"/>
<rect x="738" y="370" width="18" height="8" fill="#0e8804"/>
<rect x="738" y="378" width="18" height="8" fill="#209200"/>
<rect x="738" y="386" width="18" height="8" fill="#449d00"/>
<rect x="738" y="394" width="18" height="16" fill="#5ca500"/>
<rect x="738" y="410" width="18" height="24" fill="#68a900"/>
<rect x="738" y="434" width="18" height="64" fill="#74ad00"/>
<rect x="738" y="498" width="18" height="32" fill="#68a900"/>
<rect x="738" y="530" width="18" height="24" fill="#5ca500"/>
<rect x="738" y="554" width="18" height="8" fill="#50a100"/>
<rect x="738" y="562" width="18" height="8" fill="#4ea100"/>
<rect x="738" y="570" width="18" height="8" fill="#4ba000"/>
<rect x="738" y="578" width="18" height="8" fill="#499f00"/>
<rect x="738" y="586" width="18" height="8" fill="#469e00"/>
<rect x="738" y="594" width="18" height="8" fill="#449d00"/>
<rect x="738" y="602" width="18" height="8" fill="#279400"/>
<rect x="738" y="610" width="18" height="8" fill="#229300"/>
<rect x="738" y="618" width="18" height="8" fill="#1e9100"/>
<rect x="738" y="626" width="18" height="8" fill="#198f00"/>
<rect x="738" y="634" width="18" height="8" fill="#148e00"/>
<rect x="738" y="642" width="18" height="8" fill="#118d00"/>
<rect x="738" y="650" width="18" height="8" fill="#0e8c00"/>
<rect x="738" y="658" width="18" height="8" fill="#0e8a02"/>
<rect x="738" y="666" width="18" height="8" fill="#0e8804"/>
<rect x="738" y="674" width="18" height="8" fill="#0d8606"/>
<rect x="738" y="682" width="18" height="8" fill="#0d8408"/>
<rect x="738" y="690" width="18" height="8" fill="#0d820a"/>
<rect x="738" y="698" width="18" height="8" fill="#0d800c"/>
<rect x="738" y="706" width="18" height="8" fill="#0d7e0e"/>
<rect x="738" y="714" width="18" height="8" fill="#0c7c10"/>
<rect x="738" y="722" width="18" height="8" fill="#0c7913"/>
<rect x="738" y="730" width="18" height="8" fill="#0c7715"/>
<rect x="738" y="738" width="18" height="8" fill="#0c7319"/>
<rect x="738" y="746" width="18" height="8" fill="#0b6f1d"/>
<rect x="738" y="754" width="18" height="8" fill="#0a6725"/>
<rect x="738" y="762" width="18" height="8" fill="#095f2d"/>
<rect x="738" y="770" width="18" height="48" fill="#0c000d"/>
<rect x="756" y="170" width="18" height="24" fill="#0c000d"/>
<rect x="756" y="194" width="18" height="8" fill="#0c0082"/>
<rect x="756" y="202" width="18" height="8" fill="#0a0083"/>
<rect x="756" y="210" width="18" height="8" fill="#080085"/>
<rect x="756" y="218" width="18" height="8" fill="#060087"/>
<rect x="756" y="226" width="18" height="8" fill="#040088"/>
<rect x="756" y="234" width="18" height="8" fill="#02008a"/>
<rect x="756" y="242" width="18" height="8" fill="#01008b"/>
<rect x="756" y="250" width="18" height="8" fill="#00018b"/>
<rect x="756" y="258" width="18" height="32" fill="#000488"/>
<rect x="756" y="290" width="18" height="8" fill="#021577"/>
<rect x="756" y="298" width="18" height="8" fill="#031d6f"/>
<rect x="756" y="306" width="18" height="8" fill="#052d5f"/>
<rect x="756" y="314" width="18" height="8" fill="#074646"/>
<rect x="756" y="322" width="18" height="8" fill="#095f2d"/>
<rect x="756" y="330" width="18" height="8" fill="#0d800c"/>
<rect x="756" y="338" width="18" height="8" fill="#148e00"/>
<rect x="756" y="346" width="18" height="8" fill="#449d00"/>
<rect x="756" y="354" width="18" height="8" fill="#5ca500"/>
<rect x="756" y="362" width="18" height="8" fill="#74ad00"/>
<rect x="756" y="370" width="18" height="8" fill="#a4bc00"/>
<rect x="756" y="378" width="18" height="8" fill="#c8c800"/>
<rect x="756" y="386" width="18" height="8" fill="#c8c000"/>
<rect x="756" y="394" width="18" height="8" fill="#c8b700"/>
<rect x="756" y="402" width="18" height="16" fill="#c9ae00"/>
<rect x="756" y="418" width="18" height="32" fill="#c9a600"/>
<rect x="756" y="450" width="18" height="16" fill="#c9ae00"/>
<rect x="756" y="466" width="18" height="8" fill="#c8b700"/>
<rect x="756" y="474" width="18" height="24" fill="#c8c800"/>
<rect x="756" y="498" width="18" height="16" fill="#b0c000"/>
<rect x="756" y="514" width="18" height="16" fill="#a4bc00"/>
<rect x="756" y="530" width="18" height="16" fill="#98b900"/>
<rect x="756" y="546" width="18" height="16" fill="#80b100"/>
<rect x="756" y="562" width="18" height="16" fill="#74ad00"/>
<rect x="756" y="578" width="18" height="24" fill="#68a900"/>
<rect x="756" y="602" width="18" height="8" fill="#4ba000"/>
<rect x="756" y="610" width="18" height="8" fill="#3d9b00"/>
<rect x="756" y="618" width="18" height="8" fill="#349800"/>
<rect x="756" y="626" width="18" height="8" fill="#2c9600"/>
<rect x="756" y="634" width="18" height="8" fill="#289400"/>
<rect x="756" y="642" width="18" height="8" fill="#249300"/>
<rect x="756" y="650" width="18" height="8" fill="#209200"/>
<rect x="756" y="658" width="18" height="8" fill="#1c9100"/>
<rect x="756" y="666" width="18" height="8" fill="#188f00"/>
<rect x="756" y="674" width="18" height="8" fill="#148e00"/>
<rect x="756" y="682" width="18" height="8" fill="#108d00"/>
<rect x="756" y="690" width="18" height="8" fill="#0e8b01"/>
<rect x="756" y="698" width="18" height="8" fill="#0e8804"/>
<rect x="756" y="706" width="18" height="8" fill="#0d8408"/>
<rect x="756" y="714" width="18" height="8" fill="#0d800c"/>
<rect x="756" y="722" width="18" height="8" fill="#0c7715"/>
<rect x="756" y="730" width="18" height="8" fill="#0b6f1d"/>
<rect x="756" y="738" width="18" height="80" fill="#0c000d"/>
<rect x="774" y="170" width="18" height="8" fill="#0c000d"/>
<rect x="774" y="178" width="18" height="48" fill="#02008a"/>
<rect x="774" y="226" width="18" height="8" fill="#000488"/>
<rect x="774" y="234" width="18" height="8" fill="#010884"/>
<rect x="774" y="242" width="18" height="8" fill="#010c80"/>
<rect x="774" y="250" width="18" height="8" fill="#031d6f"/>
<rect x="774" y="258" width="18" height="8" fill="#042a62"/>
<rect x="774" y="266" width="18" height="8" fill="#053656"/>
<rect x="774" y="274" width="18" height="8" fill="#063e4e"/>
<rect x="774" y="282" width="18" height="8" fill="#074646"/>
<rect x="774" y="290" width="18" height="8" fill="#095636"/>
<rect x="774" y="298" width="18" height="8" fill="#0a6725"/>
<rect x="774" y="306" width="18" height="8" fill="#0c7715"/>
<rect x="774" y="314" width="18" height="8" fill="#148e00"/>
<rect x="774" y="322" width="18" height="8" fill="#449d00"/>
<rect x="774" y="330" width="18" height="8" fill="#68a900"/>
<rect x="774" y="338" width="18" height="8" fill="#a4bc00"/>
<rect x="774" y="346" width="18" height="8" fill="#c8b700"/>
<rect x="774" y="354" width="18" height="8" fill="#ca9500"/>
<rect x="774" y="362" width="18" height="8" fill="#ca7300"/>
<rect x="774" y="370" width="18" height="8" fill="#cb6e00"/>
<rect x="774" y="378" width="18" height="8" fill="#cb6700"/>
<rect x="774" y="386" width="18" height="8" fill="#cb6a00"/>
<rect x="774" y="394" width="18" height="8" fill="#cb6800"/>
<rect x="774" y="402" width="18" height="8" fill="#cb6500"/>
<rect x="774" y="410" width="18" height="8" fill="#cb6200"/>
<rect x="774" y="418" width="18" height="8" fill="#cb6400"/>
<rect x="774" y="426" width="18" height="8" fill="#cb6500"/>
<rect x="774" y="434" width="18" height="8" fill="#cb6700"/>
<rect x="774" y="442" width="18" height="8" fill="#cb6900"/>
<rect x="774" y="450" width="18" height="8" fill="#cb6a00"/>
<rect x="774" y="458" width="18" height="8" fill="#ca7300"/>
<rect x="774" y="466" width="18" height="8" fill="#ca7c00"/>
<rect x="774" y="474" width="18" height="8" fill="#ca8400"/>
<rect x="774" y="482" width="18" height="8" fill="#ca8c00"/>
<rect x="774" y="490" width="18" height="16" fill="#ca9500"/>
<rect x="774" y="506" width="18" height="8" fill="#c99e00"/>
<rect x="774" y="514" width="18" height="8" fill="#c9a600"/>
<rect x="774" y="522" width="18" height="8" fill="#c8b700"/>
<rect x="774" y="530" width="18" height="32" fill="#c8c800"/>
<rect x="774" y="562" width="18" height="8" fill="#b0c000"/>
<rect x="774" y="570" width="18" height="16" fill="#a4bc00"/>
<rect x="774" y="586" width="18" height="16" fill="#98b900"/>
<rect x="774" y="602" width="18" height="8" fill="#74ad00"/>
<rect x="774" y="610" width="18" height="8" fill="#68a900"/>
<rect x="774" y="618" width="18" height="16" fill="#5ca500"/>
<rect x="774" y="634" width="18" height="16" fill="#50a100"/>
<rect x="774" y="650" width="18" height="8" fill="#449d00"/>
<rect x="774" y="658" width="18" height="8" fill="#389a00"/>
<rect x="774" y="666" width="18" height="8" fill="#2c9600"/>
<rect x="774" y="674" width="18" height="8" fill="#209200"/>
<rect x="774" y="682" width="18" height="8" fill="#148e00"/>
<rect x="774" y="690" width="18" height="8" fill="#0e8804"/>
<rect x="774" y="698" width="18" height="8" fill="#0c7715"/>
<rect x="774" y="706" width="18" height="8" fill="#0a6725"/>
<rect x="774" y="714" width="18" height="104" fill="#0c000d"/>
</g>
<g stroke="#000" stroke-width="1" fill="none" shape-rendering="crispEdges">
<rect x="144.5" y="170.5" width="648" height="647"/>
<path d="M144.5 817.5v-12 M144.5 170.5v12"/>
<path d="M162.5 817.5v-6 M162.5 170.5v6"/>
<path d="M180.5 817.5v-6 M180.5 170.5v6"/>
<path d="M198.5 817.5v-6 M198.5 170.5v6"/>
<path d="M216.5 817.5v-6 M216.5 170.5v6"/>
<path d="M234.5 817.5v-12 M234.5 170.5v12"/>
<path d="M252.5 817.5v-6 M252.5 170.5v6"/>
<path d="M270.5 817.5v-6 M270.5 170.5v6"/>
<path d="M288.5 817.5v-6 M288.5 170.5v6"/>
<path d="M306.5 817.5v-6 M306.5 170.5v6"/>
<path d="M324.5 817.5v-12 M324.5 170.5v12"/>
<path d="M342.5 817.5v-6 M342.5 170.5v6"/>
<path d="M360.5 817.5v-6 M360.5 170.5v6"/>
<path d="M378.5 817.5v-6 M378.5 170.5v6"/>
<path d="M396.5 817.5v-6 M396.5 170.5v6"/>
<path d="M414.5 817.5v-12 M414.5 170.5v12"/>
<path d="M432.5 817.5v-6 M432.5 170.5v6"/>
<path d="M450.5 817.5v-6 M450.5 170.5v6"/>
<path d="M468.5 817.5v-6 M468.5 170.5v6"/>
<path d="M486.5 817.5v-6 M486.5 170.5v6"/>
<path d="M504.5 817.5v-12 M504.5 170.5v12"/>
<path d="M522.5 817.5v-6 M522.5 170.5v6"/>
<path d="M540.5 817.5v-6 M540.5 170.5v6"/>
<path d="M558.5 817.5v-6 M558.5 170.5v6"/>
<path d="M576.5 817.5v-6 M576.5 170.5v6"/>
<path d="M594.5 817.5v-12 M594.5 170.5v12"/>
<path d="M612.5 817.5v-6 M612.5 170.5v6"/>
<path d="M630.5 817.5v-6 M630.5 170.5v6"/>
<path d="M648.5 817.5v-6 M648.5 170.5v6"/>
<path d="M666.5 817.5v-6 M666.5 170.5v6"/>
<path d="M684.5 817.5v-12 M684.5 170.5v12"/>
<path d="M702.5 817.5v-6 M702.5 170.5v6"/>
<path d="M720.5 817.5v-6 M720.5 170.5v6"/>
<path d="M738.5 817.5v-6 M738.5 170.5v6"/>
<path d="M756.5 817.5v-6 M756.5 170.5v6"/>
<path d="M774.5 817.5v-12 M774.5 170.5v12"/>
<path d="M792.5 817.5v-6 M792.5 170.5v6"/>
<path d="M144.5 817.5h12 M792.5 817.5h-12"/>
<path d="M144.5 737.5h6 M792.5 737.5h-6"/>
<path d="M144.5 657.5h12 M792.5 657.5h-12"/>
<path d="M144.5 577.5h6 M792.5 577.5h-6"/>
<path d="M144.5 497.5h12 M792.5 497.5h-12"/>
<path d="M144.5 417.5h6 M792.5 417.5h-6"/>
<path d="M144.5 337.5h12 M792.5 337.5h-12"/>
<path d="M144.5 257.5h6 M792.5 257.5h-6"/>
<path d="M144.5 177.5h12 M792.5 177.5h-12"/>
</g>
<defs><linearGradient id="cb" x1="0" x2="1" y1="0" y2="0">
<stop offset="0.0000" stop-color="#000000"/>
<stop offset="0.1429" stop-color="#4c004c"/>
<stop offset="0.2857" stop-color="#00008b"/>
<stop offset="0.4286" stop-color="#0c8c00"/>
<stop offset="0.5714" stop-color="#c8c800"/>
<stop offset="0.7143" stop-color="#cc2000"/>
<stop offset="0.8571" stop-color="#ff0000"/>
<stop offset="1.0000" stop-color="#ffffff"/>
</linearGradient></defs>
<rect x="540" y="34" width="325" height="13" fill="url(#cb)"/>
<g stroke="#000" stroke-width="1" fill="none" shape-rendering="crispEdges">
<rect x="539.5" y="33.5" width="325" height="14"/>
<path d="M593.7 33.5v3 M593.7 47.5v-3"/>
<path d="M647.8 33.5v3 M647.8 47.5v-3"/>
<path d="M702.0 33.5v3 M702.0 47.5v-3"/>
<path d="M756.2 33.5v3 M756.2 47.5v-3"/>
<path d="M810.4 33.5v3 M810.4 47.5v-3"/>
</g>
</svg>
<svg width="878" height="900" viewBox="0 0 878 900" style="position:absolute;left:0;top:0;will-change:transform;opacity:0.999">
<g font-family="'Liberation Serif', serif" font-size="30px" fill="#000" stroke="#000" stroke-width="0.35">
<text transform="translate(701.8,19.7) scale(1,1.02)" text-anchor="middle" xml:space="preserve">TEC</text>
<text transform="translate(539.9,81.8) scale(1,1.02)" text-anchor="middle" xml:space="preserve">0</text>
<text transform="translate(594.0,81.8) scale(1,1.02)" text-anchor="middle" xml:space="preserve">10</text>
<text transform="translate(648.1,81.8) scale(1,1.02)" text-anchor="middle" xml:space="preserve">20</text>
<text transform="translate(702.2,81.8) scale(1,1.02)" text-anchor="middle" xml:space="preserve">30</text>
<text transform="translate(756.3,81.8) scale(1,1.02)" text-anchor="middle" xml:space="preserve">40</text>
<text transform="translate(810.4,81.8) scale(1,1.02)" text-anchor="middle" xml:space="preserve">50</text>
<text transform="translate(864.5,81.8) scale(1,1.02)" text-anchor="middle" xml:space="preserve">60</text>
<text transform="translate(470.6,155.7) scale(1,1.02)" text-anchor="middle" xml:space="preserve">PBf20150218  UT: 11.25  mjd: 57071</text>
<text transform="translate(0.2,417.3) scale(1,1.02)" text-anchor="start" xml:space="preserve">Latitude</text>
<text transform="translate(467.8,892.3) scale(1,1.02)" text-anchor="middle" xml:space="preserve">Longitude</text>
<text transform="translate(129.9,824.7) scale(1,1.02)" text-anchor="end" xml:space="preserve">-40</text>
<text transform="translate(129.9,664.7) scale(1,1.02)" text-anchor="end" xml:space="preserve">-20</text>
<text transform="translate(129.9,504.7) scale(1,1.02)" text-anchor="end" xml:space="preserve">0</text>
<text transform="translate(129.9,344.7) scale(1,1.02)" text-anchor="end" xml:space="preserve">20</text>
<text transform="translate(129.9,184.7) scale(1,1.02)" text-anchor="end" xml:space="preserve">40</text>
<text transform="translate(144.2,852.1) scale(1,1.02)" text-anchor="middle" xml:space="preserve">0</text>
<text transform="translate(234.2,852.1) scale(1,1.02)" text-anchor="middle" xml:space="preserve">50</text>
<text transform="translate(324.2,852.1) scale(1,1.02)" text-anchor="middle" xml:space="preserve">100</text>
<text transform="translate(414.2,852.1) scale(1,1.02)" text-anchor="middle" xml:space="preserve">150</text>
<text transform="translate(504.2,852.1) scale(1,1.02)" text-anchor="middle" xml:space="preserve">200</text>
<text transform="translate(594.2,852.1) scale(1,1.02)" text-anchor="middle" xml:space="preserve">250</text>
<text transform="translate(684.2,852.1) scale(1,1.02)" text-anchor="middle" xml:space="preserve">300</text>
<text transform="translate(774.2,852.1) scale(1,1.02)" text-anchor="middle" xml:space="preserve">350</text>
</g>
</svg>
</body></html>
